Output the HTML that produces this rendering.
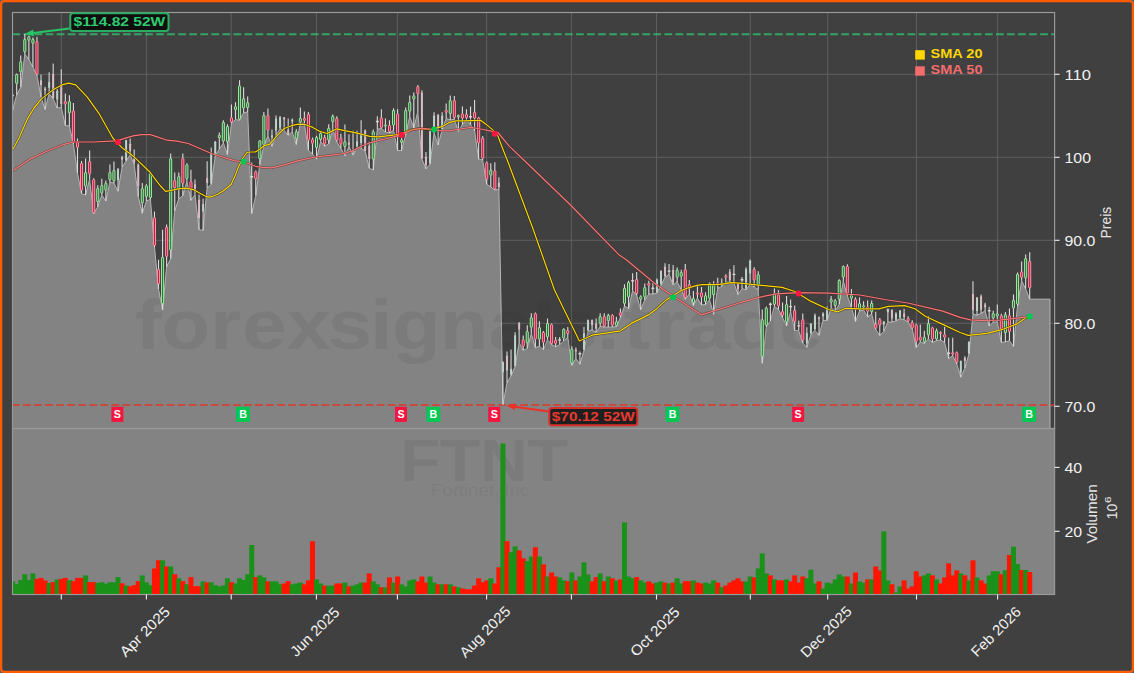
<!DOCTYPE html>
<html><head><meta charset="utf-8"><title>FTNT</title>
<style>
html,body{margin:0;padding:0;background:#404040;}
body{width:1134px;height:673px;overflow:hidden;font-family:"Liberation Sans",sans-serif;}
svg{display:block;position:absolute;left:0;top:0;}
text{font-family:"Liberation Sans",sans-serif;}
</style></head><body>
<svg width="1134" height="673" viewBox="0 0 1134 673">
<defs>
<clipPath id="cp"><rect x="12.5" y="12.5" width="1042.1" height="416.0"/></clipPath>
<clipPath id="cv"><rect x="12.5" y="428.5" width="1042.1" height="166.0"/></clipPath>
</defs>
<rect x="0" y="0" width="1134" height="673" fill="#55626a"/>
<rect x="1.1" y="1.1" width="1131.8" height="670.8" rx="3.2" ry="3.2" fill="#404040" stroke="#ff5c00" stroke-width="2.3"/>

<rect x="12.5" y="428.5" width="1042.1" height="166.0" fill="#838383"/>
<g stroke="#5e5e5e" stroke-width="1" clip-path="url(#cp)">
<line x1="61.3" y1="12.5" x2="61.3" y2="428.5"/>
<line x1="146.4" y1="12.5" x2="146.4" y2="428.5"/>
<line x1="231.2" y1="12.5" x2="231.2" y2="428.5"/>
<line x1="316.4" y1="12.5" x2="316.4" y2="428.5"/>
<line x1="397.4" y1="12.5" x2="397.4" y2="428.5"/>
<line x1="486.6" y1="12.5" x2="486.6" y2="428.5"/>
<line x1="571.4" y1="12.5" x2="571.4" y2="428.5"/>
<line x1="656.5" y1="12.5" x2="656.5" y2="428.5"/>
<line x1="750.3" y1="12.5" x2="750.3" y2="428.5"/>
<line x1="827.7" y1="12.5" x2="827.7" y2="428.5"/>
<line x1="916.5" y1="12.5" x2="916.5" y2="428.5"/>
<line x1="997.6" y1="12.5" x2="997.6" y2="428.5"/>
<line x1="12.5" y1="74.3" x2="1054.6" y2="74.3"/>
<line x1="12.5" y1="157.3" x2="1054.6" y2="157.3"/>
<line x1="12.5" y1="240.3" x2="1054.6" y2="240.3"/>
<line x1="12.5" y1="323.3" x2="1054.6" y2="323.3"/>
<line x1="12.5" y1="406.3" x2="1054.6" y2="406.3"/>
</g>
<g clip-path="url(#cp)">
<polygon points="10.5,110.0 12.7,110.0 16.7,94.8 20.8,87.3 24.8,54.0 28.9,59.4 32.9,67.0 37.0,75.5 41.0,97.0 45.1,109.4 49.1,93.6 53.2,98.8 57.2,108.0 61.3,107.5 65.3,125.5 69.4,126.0 73.4,144.0 77.5,173.0 81.5,193.6 85.6,195.0 89.6,179.5 93.7,213.7 97.7,206.8 101.8,195.0 105.8,201.0 109.9,182.2 113.9,183.0 118.0,191.2 122.1,167.0 126.1,161.0 130.2,154.7 134.2,164.5 138.3,196.8 142.3,213.2 146.4,201.0 150.4,199.2 154.5,247.0 158.5,289.0 162.6,310.0 166.6,266.8 170.7,258.7 174.7,210.8 178.8,198.7 182.8,195.8 186.9,181.3 190.9,200.4 195.0,194.6 199.0,229.7 203.1,230.3 207.1,188.1 211.2,184.6 215.2,156.2 219.3,149.0 223.4,142.8 227.4,154.5 231.5,123.1 235.5,119.6 239.6,120.2 243.6,112.7 247.7,112.0 251.7,213.6 255.8,195.6 259.8,164.3 263.9,145.7 267.9,135.8 272.0,146.3 276.0,135.3 280.1,128.9 284.1,130.3 288.2,135.3 292.2,131.8 296.3,144.5 300.3,123.1 304.4,123.5 308.4,150.3 312.5,154.0 316.5,159.1 320.6,141.6 324.7,146.3 328.7,143.8 332.8,129.0 336.8,141.8 340.9,148.2 344.9,155.7 349.0,146.4 353.0,155.1 357.1,148.0 361.1,148.2 365.2,151.0 369.2,168.2 373.3,170.0 377.3,129.2 381.4,128.5 385.4,131.9 389.5,133.1 393.5,130.2 397.6,150.5 401.6,150.5 405.7,134.8 409.7,116.3 413.8,127.9 417.8,111.7 421.9,159.0 426.0,168.8 430.0,164.2 434.1,133.0 438.1,144.9 442.2,129.6 446.2,118.6 450.3,119.8 454.3,119.2 458.4,131.4 462.4,124.4 466.5,119.5 470.5,124.4 474.6,130.8 478.6,159.2 482.7,160.0 486.7,184.2 490.8,187.0 494.8,190.0 498.9,189.4 502.9,404.7 507.0,382.7 511.0,375.8 515.1,366.5 519.1,342.7 523.2,350.3 527.3,348.5 531.3,333.5 535.4,347.4 539.4,346.5 543.5,349.4 547.5,339.8 551.6,344.5 555.6,346.8 559.7,344.5 563.7,341.0 567.8,337.3 571.8,365.3 575.9,358.4 579.9,364.2 584.0,350.3 588.0,331.1 592.1,330.0 596.1,332.3 600.2,326.5 604.2,327.1 608.3,327.1 612.3,327.1 616.4,326.5 620.4,317.5 624.5,306.0 628.6,308.5 632.6,290.6 636.7,295.2 640.7,309.7 644.8,300.0 648.8,294.0 652.9,294.0 656.9,293.0 661.0,285.3 665.0,277.2 669.1,274.3 673.1,284.8 677.2,281.9 681.2,289.4 685.3,299.2 689.3,294.0 693.4,305.6 697.4,298.1 701.5,305.0 705.5,304.5 709.6,299.8 713.6,314.3 717.7,288.5 721.7,286.5 725.8,282.4 729.9,281.9 733.9,283.0 738.0,294.5 742.0,288.6 746.1,289.8 750.1,284.5 754.2,286.9 758.2,289.8 762.3,363.2 766.3,326.8 770.4,321.0 774.4,306.2 778.5,309.4 782.5,317.6 786.6,326.0 790.6,311.5 794.7,330.5 798.7,330.7 802.8,342.9 806.8,347.5 810.9,334.8 814.9,330.2 819.0,335.3 823.0,320.4 827.1,320.4 831.2,307.7 835.2,311.2 839.3,304.2 843.3,281.0 847.4,296.1 851.4,307.1 855.5,321.5 859.5,311.0 863.6,310.0 867.6,316.9 871.7,314.0 875.7,329.6 879.8,335.4 883.8,331.3 887.9,322.1 891.9,322.1 896.0,320.9 900.0,318.6 904.1,319.8 908.1,322.1 912.2,329.0 916.2,347.6 920.3,341.8 924.3,343.5 928.4,338.9 932.5,342.4 936.5,340.6 940.6,340.0 944.6,342.4 948.7,358.6 952.7,355.7 956.8,363.9 960.8,377.2 964.9,367.9 968.9,354.3 973.0,314.2 977.0,315.2 981.1,313.3 985.1,310.9 989.2,326.0 993.2,322.3 997.3,321.7 1001.3,342.4 1005.4,341.9 1009.4,340.7 1013.5,346.5 1017.5,306.0 1021.6,280.7 1025.6,288.8 1029.7,299.2 1030.2,299.2 1050.0,299.2 1050.0,430.5 10.5,430.5" fill="#838383"/>
<polyline points="10.5,110.0 12.7,110.0 16.7,94.8 20.8,87.3 24.8,54.0 28.9,59.4 32.9,67.0 37.0,75.5 41.0,97.0 45.1,109.4 49.1,93.6 53.2,98.8 57.2,108.0 61.3,107.5 65.3,125.5 69.4,126.0 73.4,144.0 77.5,173.0 81.5,193.6 85.6,195.0 89.6,179.5 93.7,213.7 97.7,206.8 101.8,195.0 105.8,201.0 109.9,182.2 113.9,183.0 118.0,191.2 122.1,167.0 126.1,161.0 130.2,154.7 134.2,164.5 138.3,196.8 142.3,213.2 146.4,201.0 150.4,199.2 154.5,247.0 158.5,289.0 162.6,310.0 166.6,266.8 170.7,258.7 174.7,210.8 178.8,198.7 182.8,195.8 186.9,181.3 190.9,200.4 195.0,194.6 199.0,229.7 203.1,230.3 207.1,188.1 211.2,184.6 215.2,156.2 219.3,149.0 223.4,142.8 227.4,154.5 231.5,123.1 235.5,119.6 239.6,120.2 243.6,112.7 247.7,112.0 251.7,213.6 255.8,195.6 259.8,164.3 263.9,145.7 267.9,135.8 272.0,146.3 276.0,135.3 280.1,128.9 284.1,130.3 288.2,135.3 292.2,131.8 296.3,144.5 300.3,123.1 304.4,123.5 308.4,150.3 312.5,154.0 316.5,159.1 320.6,141.6 324.7,146.3 328.7,143.8 332.8,129.0 336.8,141.8 340.9,148.2 344.9,155.7 349.0,146.4 353.0,155.1 357.1,148.0 361.1,148.2 365.2,151.0 369.2,168.2 373.3,170.0 377.3,129.2 381.4,128.5 385.4,131.9 389.5,133.1 393.5,130.2 397.6,150.5 401.6,150.5 405.7,134.8 409.7,116.3 413.8,127.9 417.8,111.7 421.9,159.0 426.0,168.8 430.0,164.2 434.1,133.0 438.1,144.9 442.2,129.6 446.2,118.6 450.3,119.8 454.3,119.2 458.4,131.4 462.4,124.4 466.5,119.5 470.5,124.4 474.6,130.8 478.6,159.2 482.7,160.0 486.7,184.2 490.8,187.0 494.8,190.0 498.9,189.4 502.9,404.7 507.0,382.7 511.0,375.8 515.1,366.5 519.1,342.7 523.2,350.3 527.3,348.5 531.3,333.5 535.4,347.4 539.4,346.5 543.5,349.4 547.5,339.8 551.6,344.5 555.6,346.8 559.7,344.5 563.7,341.0 567.8,337.3 571.8,365.3 575.9,358.4 579.9,364.2 584.0,350.3 588.0,331.1 592.1,330.0 596.1,332.3 600.2,326.5 604.2,327.1 608.3,327.1 612.3,327.1 616.4,326.5 620.4,317.5 624.5,306.0 628.6,308.5 632.6,290.6 636.7,295.2 640.7,309.7 644.8,300.0 648.8,294.0 652.9,294.0 656.9,293.0 661.0,285.3 665.0,277.2 669.1,274.3 673.1,284.8 677.2,281.9 681.2,289.4 685.3,299.2 689.3,294.0 693.4,305.6 697.4,298.1 701.5,305.0 705.5,304.5 709.6,299.8 713.6,314.3 717.7,288.5 721.7,286.5 725.8,282.4 729.9,281.9 733.9,283.0 738.0,294.5 742.0,288.6 746.1,289.8 750.1,284.5 754.2,286.9 758.2,289.8 762.3,363.2 766.3,326.8 770.4,321.0 774.4,306.2 778.5,309.4 782.5,317.6 786.6,326.0 790.6,311.5 794.7,330.5 798.7,330.7 802.8,342.9 806.8,347.5 810.9,334.8 814.9,330.2 819.0,335.3 823.0,320.4 827.1,320.4 831.2,307.7 835.2,311.2 839.3,304.2 843.3,281.0 847.4,296.1 851.4,307.1 855.5,321.5 859.5,311.0 863.6,310.0 867.6,316.9 871.7,314.0 875.7,329.6 879.8,335.4 883.8,331.3 887.9,322.1 891.9,322.1 896.0,320.9 900.0,318.6 904.1,319.8 908.1,322.1 912.2,329.0 916.2,347.6 920.3,341.8 924.3,343.5 928.4,338.9 932.5,342.4 936.5,340.6 940.6,340.0 944.6,342.4 948.7,358.6 952.7,355.7 956.8,363.9 960.8,377.2 964.9,367.9 968.9,354.3 973.0,314.2 977.0,315.2 981.1,313.3 985.1,310.9 989.2,326.0 993.2,322.3 997.3,321.7 1001.3,342.4 1005.4,341.9 1009.4,340.7 1013.5,346.5 1017.5,306.0 1021.6,280.7 1025.6,288.8 1029.7,299.2 1030.2,299.2 1050.0,299.2 1050.0,430.5" fill="none" stroke="#b4b4b4" stroke-width="1" stroke-linejoin="round"/>
</g>
<text transform="scale(1.12,1)" x="120.8 144.3 187.4 216.4 255.8 292.7 330.6 350.3 392.8 436.1 476.3 494.4 533.3 557.0 583.9 612.8 652.3 695.8" y="349" font-size="71" font-weight="bold" fill="#303030" fill-opacity="0.088">forexsignals.trade</text>
<text transform="scale(1.1,1)" x="363.7 399.7 436.3 479.6" y="481.5" font-size="60" font-weight="bold" fill="#303030" fill-opacity="0.085">FTNT</text>
<text x="480" y="496" text-anchor="middle" font-size="16.5" fill="#303030" fill-opacity="0.085" textLength="98" lengthAdjust="spacingAndGlyphs">Fortinet, Inc</text>
<line x1="12.5" y1="34.2" x2="1054.6" y2="34.2" stroke="#2ecc71" stroke-opacity="0.72" stroke-width="2" stroke-dasharray="7.7 3.35"/>
<line x1="12.0" y1="405" x2="1054.6" y2="405" stroke="#e03424" stroke-opacity="0.74" stroke-width="1.9" stroke-dasharray="7.7 3.35"/>
<g clip-path="url(#cp)">
<line x1="12.65" y1="93.0" x2="12.65" y2="110.0" stroke="#dcdcdc" stroke-width="1.1"/>
<line x1="16.70" y1="73.5" x2="16.70" y2="94.8" stroke="#dcdcdc" stroke-width="1.1"/>
<line x1="20.75" y1="55.4" x2="20.75" y2="87.3" stroke="#dcdcdc" stroke-width="1.1"/>
<line x1="24.81" y1="34.0" x2="24.81" y2="54.0" stroke="#dcdcdc" stroke-width="1.1"/>
<line x1="28.86" y1="35.8" x2="28.86" y2="59.4" stroke="#dcdcdc" stroke-width="1.1"/>
<line x1="32.91" y1="37.6" x2="32.91" y2="67.0" stroke="#dcdcdc" stroke-width="1.1"/>
<line x1="36.96" y1="36.7" x2="36.96" y2="75.5" stroke="#dcdcdc" stroke-width="1.1"/>
<line x1="41.01" y1="74.5" x2="41.01" y2="97.0" stroke="#d6d6d6" stroke-width="1.1"/>
<line x1="45.07" y1="86.7" x2="45.07" y2="109.4" stroke="#d6d6d6" stroke-width="1.1"/>
<line x1="49.12" y1="72.2" x2="49.12" y2="93.6" stroke="#d6d6d6" stroke-width="1.1"/>
<line x1="53.17" y1="63.5" x2="53.17" y2="98.8" stroke="#d6d6d6" stroke-width="1.1"/>
<line x1="57.22" y1="89.0" x2="57.22" y2="108.0" stroke="#d6d6d6" stroke-width="1.1"/>
<line x1="61.27" y1="69.3" x2="61.27" y2="107.5" stroke="#d6d6d6" stroke-width="1.1"/>
<line x1="65.33" y1="93.6" x2="65.33" y2="125.5" stroke="#dcdcdc" stroke-width="1.1"/>
<line x1="69.38" y1="95.3" x2="69.38" y2="126.0" stroke="#dcdcdc" stroke-width="1.1"/>
<line x1="73.43" y1="102.9" x2="73.43" y2="144.0" stroke="#dcdcdc" stroke-width="1.1"/>
<line x1="77.48" y1="138.5" x2="77.48" y2="173.0" stroke="#dcdcdc" stroke-width="1.1"/>
<line x1="81.53" y1="161.0" x2="81.53" y2="193.6" stroke="#dcdcdc" stroke-width="1.1"/>
<line x1="85.59" y1="158.4" x2="85.59" y2="195.0" stroke="#dcdcdc" stroke-width="1.1"/>
<line x1="89.64" y1="150.5" x2="89.64" y2="179.5" stroke="#dcdcdc" stroke-width="1.1"/>
<line x1="93.69" y1="178.2" x2="93.69" y2="213.7" stroke="#dcdcdc" stroke-width="1.1"/>
<line x1="97.74" y1="185.3" x2="97.74" y2="206.8" stroke="#dcdcdc" stroke-width="1.1"/>
<line x1="101.79" y1="178.8" x2="101.79" y2="195.0" stroke="#dcdcdc" stroke-width="1.1"/>
<line x1="105.85" y1="180.5" x2="105.85" y2="201.0" stroke="#dcdcdc" stroke-width="1.1"/>
<line x1="109.90" y1="164.5" x2="109.90" y2="182.2" stroke="#dcdcdc" stroke-width="1.1"/>
<line x1="113.95" y1="161.6" x2="113.95" y2="183.0" stroke="#dcdcdc" stroke-width="1.1"/>
<line x1="118.00" y1="168.0" x2="118.00" y2="191.2" stroke="#d6d6d6" stroke-width="1.1"/>
<line x1="122.05" y1="155.8" x2="122.05" y2="167.0" stroke="#d6d6d6" stroke-width="1.1"/>
<line x1="126.11" y1="139.7" x2="126.11" y2="161.0" stroke="#d6d6d6" stroke-width="1.1"/>
<line x1="130.16" y1="138.5" x2="130.16" y2="154.7" stroke="#d6d6d6" stroke-width="1.1"/>
<line x1="134.21" y1="149.5" x2="134.21" y2="164.5" stroke="#d6d6d6" stroke-width="1.1"/>
<line x1="138.26" y1="163.5" x2="138.26" y2="196.8" stroke="#d6d6d6" stroke-width="1.1"/>
<line x1="142.31" y1="183.0" x2="142.31" y2="213.2" stroke="#dcdcdc" stroke-width="1.1"/>
<line x1="146.37" y1="184.2" x2="146.37" y2="201.0" stroke="#dcdcdc" stroke-width="1.1"/>
<line x1="150.42" y1="172.0" x2="150.42" y2="199.2" stroke="#dcdcdc" stroke-width="1.1"/>
<line x1="154.47" y1="211.5" x2="154.47" y2="247.0" stroke="#dcdcdc" stroke-width="1.1"/>
<line x1="158.52" y1="259.8" x2="158.52" y2="289.0" stroke="#dcdcdc" stroke-width="1.1"/>
<line x1="162.57" y1="229.7" x2="162.57" y2="310.0" stroke="#dcdcdc" stroke-width="1.1"/>
<line x1="166.63" y1="224.5" x2="166.63" y2="266.8" stroke="#dcdcdc" stroke-width="1.1"/>
<line x1="170.68" y1="153.5" x2="170.68" y2="258.7" stroke="#dcdcdc" stroke-width="1.1"/>
<line x1="174.73" y1="172.6" x2="174.73" y2="210.8" stroke="#dcdcdc" stroke-width="1.1"/>
<line x1="178.78" y1="172.6" x2="178.78" y2="198.7" stroke="#dcdcdc" stroke-width="1.1"/>
<line x1="182.83" y1="153.5" x2="182.83" y2="195.8" stroke="#dcdcdc" stroke-width="1.1"/>
<line x1="186.89" y1="163.3" x2="186.89" y2="181.3" stroke="#dcdcdc" stroke-width="1.1"/>
<line x1="190.94" y1="169.7" x2="190.94" y2="200.4" stroke="#dcdcdc" stroke-width="1.1"/>
<line x1="194.99" y1="179.5" x2="194.99" y2="194.6" stroke="#d6d6d6" stroke-width="1.1"/>
<line x1="199.04" y1="194.6" x2="199.04" y2="229.7" stroke="#d6d6d6" stroke-width="1.1"/>
<line x1="203.09" y1="198.7" x2="203.09" y2="230.3" stroke="#d6d6d6" stroke-width="1.1"/>
<line x1="207.15" y1="161.2" x2="207.15" y2="188.1" stroke="#d6d6d6" stroke-width="1.1"/>
<line x1="211.20" y1="147.5" x2="211.20" y2="184.6" stroke="#d6d6d6" stroke-width="1.1"/>
<line x1="215.25" y1="141.0" x2="215.25" y2="156.2" stroke="#d6d6d6" stroke-width="1.1"/>
<line x1="219.30" y1="132.4" x2="219.30" y2="149.0" stroke="#dcdcdc" stroke-width="1.1"/>
<line x1="223.35" y1="120.2" x2="223.35" y2="142.8" stroke="#dcdcdc" stroke-width="1.1"/>
<line x1="227.41" y1="124.2" x2="227.41" y2="154.5" stroke="#dcdcdc" stroke-width="1.1"/>
<line x1="231.46" y1="104.5" x2="231.46" y2="123.1" stroke="#dcdcdc" stroke-width="1.1"/>
<line x1="235.51" y1="102.2" x2="235.51" y2="119.6" stroke="#dcdcdc" stroke-width="1.1"/>
<line x1="239.56" y1="80.2" x2="239.56" y2="120.2" stroke="#dcdcdc" stroke-width="1.1"/>
<line x1="243.61" y1="87.2" x2="243.61" y2="112.7" stroke="#dcdcdc" stroke-width="1.1"/>
<line x1="247.67" y1="96.4" x2="247.67" y2="112.0" stroke="#dcdcdc" stroke-width="1.1"/>
<line x1="251.72" y1="162.6" x2="251.72" y2="213.6" stroke="#dcdcdc" stroke-width="1.1"/>
<line x1="255.77" y1="170.5" x2="255.77" y2="195.6" stroke="#dcdcdc" stroke-width="1.1"/>
<line x1="259.82" y1="139.9" x2="259.82" y2="164.3" stroke="#dcdcdc" stroke-width="1.1"/>
<line x1="263.87" y1="112.0" x2="263.87" y2="145.7" stroke="#dcdcdc" stroke-width="1.1"/>
<line x1="267.93" y1="108.6" x2="267.93" y2="135.8" stroke="#dcdcdc" stroke-width="1.1"/>
<line x1="271.98" y1="129.5" x2="271.98" y2="146.3" stroke="#d6d6d6" stroke-width="1.1"/>
<line x1="276.03" y1="115.6" x2="276.03" y2="135.3" stroke="#d6d6d6" stroke-width="1.1"/>
<line x1="280.08" y1="116.1" x2="280.08" y2="128.9" stroke="#d6d6d6" stroke-width="1.1"/>
<line x1="284.13" y1="117.3" x2="284.13" y2="130.3" stroke="#d6d6d6" stroke-width="1.1"/>
<line x1="288.19" y1="118.5" x2="288.19" y2="135.3" stroke="#d6d6d6" stroke-width="1.1"/>
<line x1="292.24" y1="118.5" x2="292.24" y2="131.8" stroke="#d6d6d6" stroke-width="1.1"/>
<line x1="296.29" y1="128.9" x2="296.29" y2="144.5" stroke="#dcdcdc" stroke-width="1.1"/>
<line x1="300.34" y1="107.4" x2="300.34" y2="123.1" stroke="#dcdcdc" stroke-width="1.1"/>
<line x1="304.39" y1="111.5" x2="304.39" y2="123.5" stroke="#dcdcdc" stroke-width="1.1"/>
<line x1="308.45" y1="112.0" x2="308.45" y2="150.3" stroke="#dcdcdc" stroke-width="1.1"/>
<line x1="312.50" y1="137.6" x2="312.50" y2="154.0" stroke="#dcdcdc" stroke-width="1.1"/>
<line x1="316.55" y1="135.8" x2="316.55" y2="159.1" stroke="#dcdcdc" stroke-width="1.1"/>
<line x1="320.60" y1="131.8" x2="320.60" y2="141.6" stroke="#dcdcdc" stroke-width="1.1"/>
<line x1="324.65" y1="134.7" x2="324.65" y2="146.3" stroke="#dcdcdc" stroke-width="1.1"/>
<line x1="328.71" y1="124.3" x2="328.71" y2="143.8" stroke="#dcdcdc" stroke-width="1.1"/>
<line x1="332.76" y1="114.5" x2="332.76" y2="129.0" stroke="#dcdcdc" stroke-width="1.1"/>
<line x1="336.81" y1="116.3" x2="336.81" y2="141.8" stroke="#dcdcdc" stroke-width="1.1"/>
<line x1="340.86" y1="133.7" x2="340.86" y2="148.2" stroke="#dcdcdc" stroke-width="1.1"/>
<line x1="344.91" y1="124.4" x2="344.91" y2="155.7" stroke="#dcdcdc" stroke-width="1.1"/>
<line x1="348.97" y1="134.2" x2="348.97" y2="146.4" stroke="#d6d6d6" stroke-width="1.1"/>
<line x1="353.02" y1="130.8" x2="353.02" y2="155.1" stroke="#d6d6d6" stroke-width="1.1"/>
<line x1="357.07" y1="130.8" x2="357.07" y2="148.0" stroke="#d6d6d6" stroke-width="1.1"/>
<line x1="361.12" y1="120.3" x2="361.12" y2="148.2" stroke="#d6d6d6" stroke-width="1.1"/>
<line x1="365.17" y1="129.6" x2="365.17" y2="151.0" stroke="#d6d6d6" stroke-width="1.1"/>
<line x1="369.23" y1="141.8" x2="369.23" y2="168.2" stroke="#d6d6d6" stroke-width="1.1"/>
<line x1="373.28" y1="129.6" x2="373.28" y2="170.0" stroke="#dcdcdc" stroke-width="1.1"/>
<line x1="377.33" y1="116.3" x2="377.33" y2="129.2" stroke="#dcdcdc" stroke-width="1.1"/>
<line x1="381.38" y1="109.3" x2="381.38" y2="128.5" stroke="#dcdcdc" stroke-width="1.1"/>
<line x1="385.43" y1="118.6" x2="385.43" y2="131.9" stroke="#dcdcdc" stroke-width="1.1"/>
<line x1="389.49" y1="120.3" x2="389.49" y2="133.1" stroke="#dcdcdc" stroke-width="1.1"/>
<line x1="393.54" y1="108.2" x2="393.54" y2="130.2" stroke="#dcdcdc" stroke-width="1.1"/>
<line x1="397.59" y1="109.3" x2="397.59" y2="150.5" stroke="#dcdcdc" stroke-width="1.1"/>
<line x1="401.64" y1="137.7" x2="401.64" y2="150.5" stroke="#dcdcdc" stroke-width="1.1"/>
<line x1="405.69" y1="107.6" x2="405.69" y2="134.8" stroke="#dcdcdc" stroke-width="1.1"/>
<line x1="409.75" y1="95.4" x2="409.75" y2="116.3" stroke="#dcdcdc" stroke-width="1.1"/>
<line x1="413.80" y1="92.5" x2="413.80" y2="127.9" stroke="#dcdcdc" stroke-width="1.1"/>
<line x1="417.85" y1="85.0" x2="417.85" y2="111.7" stroke="#dcdcdc" stroke-width="1.1"/>
<line x1="421.90" y1="90.2" x2="421.90" y2="159.0" stroke="#d6d6d6" stroke-width="1.1"/>
<line x1="425.95" y1="152.1" x2="425.95" y2="168.8" stroke="#d6d6d6" stroke-width="1.1"/>
<line x1="430.01" y1="130.2" x2="430.01" y2="164.2" stroke="#d6d6d6" stroke-width="1.1"/>
<line x1="434.06" y1="112.2" x2="434.06" y2="133.0" stroke="#d6d6d6" stroke-width="1.1"/>
<line x1="438.11" y1="114.0" x2="438.11" y2="144.9" stroke="#d6d6d6" stroke-width="1.1"/>
<line x1="442.16" y1="112.2" x2="442.16" y2="129.6" stroke="#d6d6d6" stroke-width="1.1"/>
<line x1="446.21" y1="103.5" x2="446.21" y2="118.6" stroke="#dcdcdc" stroke-width="1.1"/>
<line x1="450.27" y1="95.4" x2="450.27" y2="119.8" stroke="#dcdcdc" stroke-width="1.1"/>
<line x1="454.32" y1="96.0" x2="454.32" y2="119.2" stroke="#dcdcdc" stroke-width="1.1"/>
<line x1="458.37" y1="114.5" x2="458.37" y2="131.4" stroke="#dcdcdc" stroke-width="1.1"/>
<line x1="462.42" y1="106.4" x2="462.42" y2="124.4" stroke="#dcdcdc" stroke-width="1.1"/>
<line x1="466.47" y1="109.3" x2="466.47" y2="119.5" stroke="#dcdcdc" stroke-width="1.1"/>
<line x1="470.53" y1="106.4" x2="470.53" y2="124.4" stroke="#dcdcdc" stroke-width="1.1"/>
<line x1="474.58" y1="100.1" x2="474.58" y2="130.8" stroke="#dcdcdc" stroke-width="1.1"/>
<line x1="478.63" y1="116.9" x2="478.63" y2="159.2" stroke="#dcdcdc" stroke-width="1.1"/>
<line x1="482.68" y1="136.0" x2="482.68" y2="160.0" stroke="#dcdcdc" stroke-width="1.1"/>
<line x1="486.73" y1="161.6" x2="486.73" y2="184.2" stroke="#dcdcdc" stroke-width="1.1"/>
<line x1="490.79" y1="163.3" x2="490.79" y2="187.0" stroke="#dcdcdc" stroke-width="1.1"/>
<line x1="494.84" y1="162.2" x2="494.84" y2="190.0" stroke="#dcdcdc" stroke-width="1.1"/>
<line x1="498.89" y1="177.2" x2="498.89" y2="189.4" stroke="#d6d6d6" stroke-width="1.1"/>
<line x1="502.94" y1="361.5" x2="502.94" y2="404.7" stroke="#d6d6d6" stroke-width="1.1"/>
<line x1="506.99" y1="351.4" x2="506.99" y2="382.7" stroke="#d6d6d6" stroke-width="1.1"/>
<line x1="511.05" y1="349.4" x2="511.05" y2="375.8" stroke="#d6d6d6" stroke-width="1.1"/>
<line x1="515.10" y1="332.3" x2="515.10" y2="366.5" stroke="#d6d6d6" stroke-width="1.1"/>
<line x1="519.15" y1="321.9" x2="519.15" y2="342.7" stroke="#d6d6d6" stroke-width="1.1"/>
<line x1="523.20" y1="335.5" x2="523.20" y2="350.3" stroke="#dcdcdc" stroke-width="1.1"/>
<line x1="527.25" y1="325.3" x2="527.25" y2="348.5" stroke="#dcdcdc" stroke-width="1.1"/>
<line x1="531.31" y1="313.2" x2="531.31" y2="333.5" stroke="#dcdcdc" stroke-width="1.1"/>
<line x1="535.36" y1="312.6" x2="535.36" y2="347.4" stroke="#dcdcdc" stroke-width="1.1"/>
<line x1="539.41" y1="321.3" x2="539.41" y2="346.5" stroke="#dcdcdc" stroke-width="1.1"/>
<line x1="543.46" y1="331.1" x2="543.46" y2="349.4" stroke="#dcdcdc" stroke-width="1.1"/>
<line x1="547.51" y1="318.4" x2="547.51" y2="339.8" stroke="#dcdcdc" stroke-width="1.1"/>
<line x1="551.57" y1="323.6" x2="551.57" y2="344.5" stroke="#dcdcdc" stroke-width="1.1"/>
<line x1="555.62" y1="336.9" x2="555.62" y2="346.8" stroke="#dcdcdc" stroke-width="1.1"/>
<line x1="559.67" y1="336.9" x2="559.67" y2="344.5" stroke="#dcdcdc" stroke-width="1.1"/>
<line x1="563.72" y1="328.2" x2="563.72" y2="341.0" stroke="#dcdcdc" stroke-width="1.1"/>
<line x1="567.77" y1="327.1" x2="567.77" y2="337.3" stroke="#dcdcdc" stroke-width="1.1"/>
<line x1="571.83" y1="346.2" x2="571.83" y2="365.3" stroke="#dcdcdc" stroke-width="1.1"/>
<line x1="575.88" y1="347.4" x2="575.88" y2="358.4" stroke="#d6d6d6" stroke-width="1.1"/>
<line x1="579.93" y1="351.4" x2="579.93" y2="364.2" stroke="#d6d6d6" stroke-width="1.1"/>
<line x1="583.98" y1="327.1" x2="583.98" y2="350.3" stroke="#d6d6d6" stroke-width="1.1"/>
<line x1="588.03" y1="319.5" x2="588.03" y2="331.1" stroke="#d6d6d6" stroke-width="1.1"/>
<line x1="592.09" y1="319.5" x2="592.09" y2="330.0" stroke="#d6d6d6" stroke-width="1.1"/>
<line x1="596.14" y1="318.4" x2="596.14" y2="332.3" stroke="#d6d6d6" stroke-width="1.1"/>
<line x1="600.19" y1="313.2" x2="600.19" y2="326.5" stroke="#dcdcdc" stroke-width="1.1"/>
<line x1="604.24" y1="313.2" x2="604.24" y2="327.1" stroke="#dcdcdc" stroke-width="1.1"/>
<line x1="608.29" y1="313.8" x2="608.29" y2="327.1" stroke="#dcdcdc" stroke-width="1.1"/>
<line x1="612.35" y1="314.3" x2="612.35" y2="327.1" stroke="#dcdcdc" stroke-width="1.1"/>
<line x1="616.40" y1="316.7" x2="616.40" y2="326.5" stroke="#dcdcdc" stroke-width="1.1"/>
<line x1="620.45" y1="308.5" x2="620.45" y2="317.5" stroke="#dcdcdc" stroke-width="1.1"/>
<line x1="624.50" y1="284.2" x2="624.50" y2="306.0" stroke="#dcdcdc" stroke-width="1.1"/>
<line x1="628.55" y1="280.7" x2="628.55" y2="308.5" stroke="#dcdcdc" stroke-width="1.1"/>
<line x1="632.61" y1="273.2" x2="632.61" y2="290.6" stroke="#dcdcdc" stroke-width="1.1"/>
<line x1="636.66" y1="272.0" x2="636.66" y2="295.2" stroke="#dcdcdc" stroke-width="1.1"/>
<line x1="640.71" y1="295.2" x2="640.71" y2="309.7" stroke="#dcdcdc" stroke-width="1.1"/>
<line x1="644.76" y1="283.6" x2="644.76" y2="300.0" stroke="#dcdcdc" stroke-width="1.1"/>
<line x1="648.81" y1="280.7" x2="648.81" y2="294.0" stroke="#dcdcdc" stroke-width="1.1"/>
<line x1="652.87" y1="283.0" x2="652.87" y2="294.0" stroke="#d6d6d6" stroke-width="1.1"/>
<line x1="656.92" y1="278.4" x2="656.92" y2="293.0" stroke="#d6d6d6" stroke-width="1.1"/>
<line x1="660.97" y1="270.3" x2="660.97" y2="285.3" stroke="#d6d6d6" stroke-width="1.1"/>
<line x1="665.02" y1="263.3" x2="665.02" y2="277.2" stroke="#d6d6d6" stroke-width="1.1"/>
<line x1="669.07" y1="263.9" x2="669.07" y2="274.3" stroke="#d6d6d6" stroke-width="1.1"/>
<line x1="673.13" y1="265.1" x2="673.13" y2="284.8" stroke="#d6d6d6" stroke-width="1.1"/>
<line x1="677.18" y1="267.4" x2="677.18" y2="281.9" stroke="#dcdcdc" stroke-width="1.1"/>
<line x1="681.23" y1="269.7" x2="681.23" y2="289.4" stroke="#dcdcdc" stroke-width="1.1"/>
<line x1="685.28" y1="263.9" x2="685.28" y2="299.2" stroke="#dcdcdc" stroke-width="1.1"/>
<line x1="689.33" y1="280.1" x2="689.33" y2="294.0" stroke="#dcdcdc" stroke-width="1.1"/>
<line x1="693.39" y1="291.1" x2="693.39" y2="305.6" stroke="#dcdcdc" stroke-width="1.1"/>
<line x1="697.44" y1="284.8" x2="697.44" y2="298.1" stroke="#dcdcdc" stroke-width="1.1"/>
<line x1="701.49" y1="287.1" x2="701.49" y2="305.0" stroke="#dcdcdc" stroke-width="1.1"/>
<line x1="705.54" y1="292.3" x2="705.54" y2="304.5" stroke="#dcdcdc" stroke-width="1.1"/>
<line x1="709.59" y1="282.4" x2="709.59" y2="299.8" stroke="#dcdcdc" stroke-width="1.1"/>
<line x1="713.65" y1="281.3" x2="713.65" y2="314.3" stroke="#dcdcdc" stroke-width="1.1"/>
<line x1="717.70" y1="277.8" x2="717.70" y2="288.5" stroke="#dcdcdc" stroke-width="1.1"/>
<line x1="721.75" y1="278.4" x2="721.75" y2="286.5" stroke="#dcdcdc" stroke-width="1.1"/>
<line x1="725.80" y1="274.3" x2="725.80" y2="282.4" stroke="#dcdcdc" stroke-width="1.1"/>
<line x1="729.85" y1="269.1" x2="729.85" y2="281.9" stroke="#d6d6d6" stroke-width="1.1"/>
<line x1="733.91" y1="265.2" x2="733.91" y2="283.0" stroke="#d6d6d6" stroke-width="1.1"/>
<line x1="737.96" y1="283.0" x2="737.96" y2="294.5" stroke="#d6d6d6" stroke-width="1.1"/>
<line x1="742.01" y1="277.0" x2="742.01" y2="288.6" stroke="#d6d6d6" stroke-width="1.1"/>
<line x1="746.06" y1="267.2" x2="746.06" y2="289.8" stroke="#d6d6d6" stroke-width="1.1"/>
<line x1="750.11" y1="259.6" x2="750.11" y2="284.5" stroke="#d6d6d6" stroke-width="1.1"/>
<line x1="754.17" y1="267.2" x2="754.17" y2="286.9" stroke="#dcdcdc" stroke-width="1.1"/>
<line x1="758.22" y1="271.2" x2="758.22" y2="289.8" stroke="#dcdcdc" stroke-width="1.1"/>
<line x1="762.27" y1="309.6" x2="762.27" y2="363.2" stroke="#dcdcdc" stroke-width="1.1"/>
<line x1="766.32" y1="306.5" x2="766.32" y2="326.8" stroke="#dcdcdc" stroke-width="1.1"/>
<line x1="770.37" y1="302.4" x2="770.37" y2="321.0" stroke="#dcdcdc" stroke-width="1.1"/>
<line x1="774.43" y1="288.6" x2="774.43" y2="306.2" stroke="#dcdcdc" stroke-width="1.1"/>
<line x1="778.48" y1="290.3" x2="778.48" y2="309.4" stroke="#dcdcdc" stroke-width="1.1"/>
<line x1="782.53" y1="302.5" x2="782.53" y2="317.6" stroke="#dcdcdc" stroke-width="1.1"/>
<line x1="786.58" y1="296.1" x2="786.58" y2="326.0" stroke="#dcdcdc" stroke-width="1.1"/>
<line x1="790.63" y1="299.6" x2="790.63" y2="311.5" stroke="#dcdcdc" stroke-width="1.1"/>
<line x1="794.69" y1="305.4" x2="794.69" y2="330.5" stroke="#dcdcdc" stroke-width="1.1"/>
<line x1="798.74" y1="320.4" x2="798.74" y2="330.7" stroke="#dcdcdc" stroke-width="1.1"/>
<line x1="802.79" y1="313.4" x2="802.79" y2="342.9" stroke="#dcdcdc" stroke-width="1.1"/>
<line x1="806.84" y1="327.2" x2="806.84" y2="347.5" stroke="#d6d6d6" stroke-width="1.1"/>
<line x1="810.89" y1="323.2" x2="810.89" y2="334.8" stroke="#d6d6d6" stroke-width="1.1"/>
<line x1="814.95" y1="313.4" x2="814.95" y2="330.2" stroke="#d6d6d6" stroke-width="1.1"/>
<line x1="819.00" y1="316.5" x2="819.00" y2="335.3" stroke="#d6d6d6" stroke-width="1.1"/>
<line x1="823.05" y1="312.3" x2="823.05" y2="320.4" stroke="#d6d6d6" stroke-width="1.1"/>
<line x1="827.10" y1="306.5" x2="827.10" y2="320.4" stroke="#d6d6d6" stroke-width="1.1"/>
<line x1="831.15" y1="296.1" x2="831.15" y2="307.7" stroke="#dcdcdc" stroke-width="1.1"/>
<line x1="835.21" y1="299.0" x2="835.21" y2="311.2" stroke="#dcdcdc" stroke-width="1.1"/>
<line x1="839.26" y1="279.3" x2="839.26" y2="304.2" stroke="#dcdcdc" stroke-width="1.1"/>
<line x1="843.31" y1="265.4" x2="843.31" y2="281.0" stroke="#dcdcdc" stroke-width="1.1"/>
<line x1="847.36" y1="264.3" x2="847.36" y2="296.1" stroke="#dcdcdc" stroke-width="1.1"/>
<line x1="851.41" y1="289.1" x2="851.41" y2="307.1" stroke="#dcdcdc" stroke-width="1.1"/>
<line x1="855.47" y1="297.3" x2="855.47" y2="321.5" stroke="#dcdcdc" stroke-width="1.1"/>
<line x1="859.52" y1="297.5" x2="859.52" y2="311.0" stroke="#dcdcdc" stroke-width="1.1"/>
<line x1="863.57" y1="301.2" x2="863.57" y2="310.0" stroke="#dcdcdc" stroke-width="1.1"/>
<line x1="867.62" y1="300.6" x2="867.62" y2="316.9" stroke="#dcdcdc" stroke-width="1.1"/>
<line x1="871.67" y1="300.6" x2="871.67" y2="314.0" stroke="#dcdcdc" stroke-width="1.1"/>
<line x1="875.73" y1="311.7" x2="875.73" y2="329.6" stroke="#dcdcdc" stroke-width="1.1"/>
<line x1="879.78" y1="318.0" x2="879.78" y2="335.4" stroke="#dcdcdc" stroke-width="1.1"/>
<line x1="883.83" y1="320.9" x2="883.83" y2="331.3" stroke="#d6d6d6" stroke-width="1.1"/>
<line x1="887.88" y1="308.8" x2="887.88" y2="322.1" stroke="#d6d6d6" stroke-width="1.1"/>
<line x1="891.93" y1="309.3" x2="891.93" y2="322.1" stroke="#d6d6d6" stroke-width="1.1"/>
<line x1="895.99" y1="312.2" x2="895.99" y2="320.9" stroke="#d6d6d6" stroke-width="1.1"/>
<line x1="900.04" y1="309.9" x2="900.04" y2="318.6" stroke="#d6d6d6" stroke-width="1.1"/>
<line x1="904.09" y1="308.8" x2="904.09" y2="319.8" stroke="#d6d6d6" stroke-width="1.1"/>
<line x1="908.14" y1="316.3" x2="908.14" y2="322.1" stroke="#dcdcdc" stroke-width="1.1"/>
<line x1="912.19" y1="320.3" x2="912.19" y2="329.0" stroke="#dcdcdc" stroke-width="1.1"/>
<line x1="916.25" y1="323.8" x2="916.25" y2="347.6" stroke="#dcdcdc" stroke-width="1.1"/>
<line x1="920.30" y1="324.4" x2="920.30" y2="341.8" stroke="#dcdcdc" stroke-width="1.1"/>
<line x1="924.35" y1="330.8" x2="924.35" y2="343.5" stroke="#dcdcdc" stroke-width="1.1"/>
<line x1="928.40" y1="316.3" x2="928.40" y2="338.9" stroke="#dcdcdc" stroke-width="1.1"/>
<line x1="932.45" y1="326.7" x2="932.45" y2="342.4" stroke="#dcdcdc" stroke-width="1.1"/>
<line x1="936.51" y1="328.5" x2="936.51" y2="340.6" stroke="#dcdcdc" stroke-width="1.1"/>
<line x1="940.56" y1="331.3" x2="940.56" y2="340.0" stroke="#dcdcdc" stroke-width="1.1"/>
<line x1="944.61" y1="326.7" x2="944.61" y2="342.4" stroke="#dcdcdc" stroke-width="1.1"/>
<line x1="948.66" y1="337.7" x2="948.66" y2="358.6" stroke="#dcdcdc" stroke-width="1.1"/>
<line x1="952.71" y1="337.7" x2="952.71" y2="355.7" stroke="#dcdcdc" stroke-width="1.1"/>
<line x1="956.77" y1="351.6" x2="956.77" y2="363.9" stroke="#dcdcdc" stroke-width="1.1"/>
<line x1="960.82" y1="360.4" x2="960.82" y2="377.2" stroke="#d6d6d6" stroke-width="1.1"/>
<line x1="964.87" y1="356.3" x2="964.87" y2="367.9" stroke="#d6d6d6" stroke-width="1.1"/>
<line x1="968.92" y1="341.2" x2="968.92" y2="354.3" stroke="#d6d6d6" stroke-width="1.1"/>
<line x1="972.97" y1="281.3" x2="972.97" y2="314.2" stroke="#d6d6d6" stroke-width="1.1"/>
<line x1="977.03" y1="296.9" x2="977.03" y2="315.2" stroke="#d6d6d6" stroke-width="1.1"/>
<line x1="981.08" y1="294.6" x2="981.08" y2="313.3" stroke="#d6d6d6" stroke-width="1.1"/>
<line x1="985.13" y1="302.7" x2="985.13" y2="310.9" stroke="#d6d6d6" stroke-width="1.1"/>
<line x1="989.18" y1="306.8" x2="989.18" y2="326.0" stroke="#d6d6d6" stroke-width="1.1"/>
<line x1="993.23" y1="310.8" x2="993.23" y2="322.3" stroke="#dcdcdc" stroke-width="1.1"/>
<line x1="997.29" y1="304.5" x2="997.29" y2="321.7" stroke="#dcdcdc" stroke-width="1.1"/>
<line x1="1001.34" y1="313.7" x2="1001.34" y2="342.4" stroke="#dcdcdc" stroke-width="1.1"/>
<line x1="1005.39" y1="312.0" x2="1005.39" y2="341.9" stroke="#dcdcdc" stroke-width="1.1"/>
<line x1="1009.44" y1="308.5" x2="1009.44" y2="340.7" stroke="#dcdcdc" stroke-width="1.1"/>
<line x1="1013.49" y1="294.6" x2="1013.49" y2="346.5" stroke="#dcdcdc" stroke-width="1.1"/>
<line x1="1017.55" y1="272.6" x2="1017.55" y2="306.0" stroke="#dcdcdc" stroke-width="1.1"/>
<line x1="1021.60" y1="261.6" x2="1021.60" y2="280.7" stroke="#dcdcdc" stroke-width="1.1"/>
<line x1="1025.65" y1="254.6" x2="1025.65" y2="288.8" stroke="#dcdcdc" stroke-width="1.1"/>
<line x1="1029.70" y1="252.3" x2="1029.70" y2="299.2" stroke="#dcdcdc" stroke-width="1.1"/>
<rect x="11.15" y="94.9" width="3" height="1.4" rx="0.5" fill="#d3dcd5"/>
<rect x="15.67" y="74.5" width="2.06" height="8.9" rx="0.35" fill="#1f7a30" stroke="#a8e4a8" stroke-width="1"/>
<rect x="19.72" y="61.7" width="2.06" height="10.0" rx="0.35" fill="#1f7a30" stroke="#a8e4a8" stroke-width="1"/>
<rect x="23.78" y="39.4" width="2.06" height="12.4" rx="0.35" fill="#1f7a30" stroke="#a8e4a8" stroke-width="1"/>
<rect x="27.83" y="36.7" width="2.06" height="3.5" rx="0.35" fill="#1f7a30" stroke="#a8e4a8" stroke-width="1"/>
<rect x="31.88" y="39.4" width="2.06" height="3.9" rx="0.35" fill="#1f7a30" stroke="#a8e4a8" stroke-width="1"/>
<rect x="35.93" y="41.6" width="2.06" height="32.5" rx="0.35" fill="#c01f40" stroke="#ff90a6" stroke-width="1"/>
<rect x="40.01" y="80.3" width="2.0" height="4.6" rx="0.5" fill="#dabcc3"/>
<rect x="44.07" y="88.5" width="2.0" height="2.0" rx="0.5" fill="#dabcc3"/>
<rect x="48.12" y="82.0" width="2.0" height="5.8" rx="0.5" fill="#bdd2c8"/>
<rect x="52.17" y="73.9" width="2.0" height="24.3" rx="0.5" fill="#dabcc3"/>
<rect x="56.22" y="90.7" width="2.0" height="8.7" rx="0.5" fill="#bdd2c8"/>
<rect x="60.27" y="84.3" width="2.0" height="19.7" rx="0.5" fill="#dabcc3"/>
<rect x="64.30" y="101.6" width="2.06" height="2.5" rx="0.35" fill="#c01f40" stroke="#ff90a6" stroke-width="1"/>
<rect x="68.35" y="101.6" width="2.06" height="11.2" rx="0.35" fill="#1f7a30" stroke="#a8e4a8" stroke-width="1"/>
<rect x="72.40" y="110.9" width="2.06" height="31.2" rx="0.35" fill="#c01f40" stroke="#ff90a6" stroke-width="1"/>
<rect x="76.45" y="141.9" width="2.06" height="5.4" rx="0.35" fill="#c01f40" stroke="#ff90a6" stroke-width="1"/>
<rect x="80.50" y="163.4" width="2.06" height="26.8" rx="0.35" fill="#c01f40" stroke="#ff90a6" stroke-width="1"/>
<rect x="84.56" y="172.6" width="2.06" height="13.5" rx="0.35" fill="#1f7a30" stroke="#a8e4a8" stroke-width="1"/>
<rect x="88.61" y="161.5" width="2.06" height="12.4" rx="0.35" fill="#c01f40" stroke="#ff90a6" stroke-width="1"/>
<rect x="92.66" y="179.8" width="2.06" height="32.9" rx="0.35" fill="#c01f40" stroke="#ff90a6" stroke-width="1"/>
<rect x="96.71" y="188.5" width="2.06" height="13.1" rx="0.35" fill="#1f7a30" stroke="#a8e4a8" stroke-width="1"/>
<rect x="100.76" y="185.6" width="2.06" height="7.4" rx="0.35" fill="#1f7a30" stroke="#a8e4a8" stroke-width="1"/>
<rect x="104.82" y="183.3" width="2.06" height="6.8" rx="0.35" fill="#1f7a30" stroke="#a8e4a8" stroke-width="1"/>
<rect x="108.87" y="172.5" width="2.06" height="7.2" rx="0.35" fill="#1f7a30" stroke="#a8e4a8" stroke-width="1"/>
<rect x="112.92" y="170.5" width="2.06" height="10.3" rx="0.35" fill="#1f7a30" stroke="#a8e4a8" stroke-width="1"/>
<rect x="117.00" y="168.9" width="2.0" height="11.3" rx="0.5" fill="#bdd2c8"/>
<rect x="121.05" y="157.0" width="2.0" height="2.8" rx="0.5" fill="#dabcc3"/>
<rect x="125.11" y="140.3" width="2.0" height="20.3" rx="0.5" fill="#bdd2c8"/>
<rect x="129.16" y="143.8" width="2.0" height="6.9" rx="0.5" fill="#dabcc3"/>
<rect x="133.21" y="158.5" width="2.0" height="3.5" rx="0.5" fill="#dabcc3"/>
<rect x="137.26" y="164.5" width="2.0" height="21.8" rx="0.5" fill="#dabcc3"/>
<rect x="141.28" y="188.7" width="2.06" height="14.1" rx="0.35" fill="#1f7a30" stroke="#a8e4a8" stroke-width="1"/>
<rect x="145.34" y="185.8" width="2.06" height="10.6" rx="0.35" fill="#1f7a30" stroke="#a8e4a8" stroke-width="1"/>
<rect x="149.39" y="173.7" width="2.06" height="23.9" rx="0.35" fill="#1f7a30" stroke="#a8e4a8" stroke-width="1"/>
<rect x="153.44" y="217.8" width="2.06" height="27.6" rx="0.35" fill="#c01f40" stroke="#ff90a6" stroke-width="1"/>
<rect x="157.49" y="269.5" width="2.06" height="14.2" rx="0.35" fill="#c01f40" stroke="#ff90a6" stroke-width="1"/>
<rect x="161.54" y="257.4" width="2.06" height="46.2" rx="0.35" fill="#1f7a30" stroke="#a8e4a8" stroke-width="1"/>
<rect x="165.60" y="227.3" width="2.06" height="29.1" rx="0.35" fill="#c01f40" stroke="#ff90a6" stroke-width="1"/>
<rect x="169.65" y="158.6" width="2.06" height="91.5" rx="0.35" fill="#1f7a30" stroke="#a8e4a8" stroke-width="1"/>
<rect x="173.70" y="180.6" width="2.06" height="7.1" rx="0.35" fill="#c01f40" stroke="#ff90a6" stroke-width="1"/>
<rect x="177.75" y="176.6" width="2.06" height="12.9" rx="0.35" fill="#1f7a30" stroke="#a8e4a8" stroke-width="1"/>
<rect x="181.80" y="158.6" width="2.06" height="24.5" rx="0.35" fill="#c01f40" stroke="#ff90a6" stroke-width="1"/>
<rect x="185.86" y="165.0" width="2.06" height="13.5" rx="0.35" fill="#1f7a30" stroke="#a8e4a8" stroke-width="1"/>
<rect x="189.91" y="181.8" width="2.06" height="7.1" rx="0.35" fill="#c01f40" stroke="#ff90a6" stroke-width="1"/>
<rect x="193.99" y="184.2" width="2.0" height="5.2" rx="0.5" fill="#dabcc3"/>
<rect x="198.04" y="199.8" width="2.0" height="18.5" rx="0.5" fill="#dabcc3"/>
<rect x="202.09" y="203.9" width="2.0" height="7.5" rx="0.5" fill="#bdd2c8"/>
<rect x="206.15" y="178.0" width="2.0" height="5.0" rx="0.5" fill="#dabcc3"/>
<rect x="210.20" y="153.0" width="2.0" height="30.5" rx="0.5" fill="#bdd2c8"/>
<rect x="214.25" y="141.7" width="2.0" height="12.8" rx="0.5" fill="#bdd2c8"/>
<rect x="218.27" y="135.2" width="2.06" height="2.5" rx="0.35" fill="#1f7a30" stroke="#a8e4a8" stroke-width="1"/>
<rect x="222.32" y="122.4" width="2.06" height="18.7" rx="0.35" fill="#1f7a30" stroke="#a8e4a8" stroke-width="1"/>
<rect x="226.38" y="126.5" width="2.06" height="15.2" rx="0.35" fill="#1f7a30" stroke="#a8e4a8" stroke-width="1"/>
<rect x="230.43" y="117.8" width="2.06" height="4.2" rx="0.35" fill="#c01f40" stroke="#ff90a6" stroke-width="1"/>
<rect x="234.48" y="106.8" width="2.06" height="3.0" rx="0.35" fill="#1f7a30" stroke="#a8e4a8" stroke-width="1"/>
<rect x="238.53" y="85.9" width="2.06" height="33.2" rx="0.35" fill="#1f7a30" stroke="#a8e4a8" stroke-width="1"/>
<rect x="242.58" y="98.7" width="2.06" height="9.4" rx="0.35" fill="#1f7a30" stroke="#a8e4a8" stroke-width="1"/>
<rect x="246.64" y="102.7" width="2.06" height="4.8" rx="0.35" fill="#1f7a30" stroke="#a8e4a8" stroke-width="1"/>
<rect x="250.22" y="176.1" width="3" height="1.4" rx="0.5" fill="#d3dcd5"/>
<rect x="254.74" y="171.8" width="2.06" height="7.1" rx="0.35" fill="#c01f40" stroke="#ff90a6" stroke-width="1"/>
<rect x="258.79" y="141.0" width="2.06" height="17.6" rx="0.35" fill="#1f7a30" stroke="#a8e4a8" stroke-width="1"/>
<rect x="262.84" y="115.5" width="2.06" height="29.1" rx="0.35" fill="#1f7a30" stroke="#a8e4a8" stroke-width="1"/>
<rect x="266.90" y="115.5" width="2.06" height="14.6" rx="0.35" fill="#c01f40" stroke="#ff90a6" stroke-width="1"/>
<rect x="270.98" y="135.3" width="2.0" height="2.3" rx="0.5" fill="#bdd2c8"/>
<rect x="275.03" y="118.5" width="2.0" height="12.1" rx="0.5" fill="#bdd2c8"/>
<rect x="279.08" y="117.3" width="2.0" height="10.4" rx="0.5" fill="#bdd2c8"/>
<rect x="283.13" y="117.3" width="2.0" height="2.3" rx="0.5" fill="#dabcc3"/>
<rect x="287.19" y="129.5" width="2.0" height="5.2" rx="0.5" fill="#dabcc3"/>
<rect x="291.24" y="119.5" width="2.0" height="2.0" rx="0.5" fill="#bdd2c8"/>
<rect x="295.26" y="131.7" width="2.06" height="7.1" rx="0.35" fill="#1f7a30" stroke="#a8e4a8" stroke-width="1"/>
<rect x="299.31" y="118.4" width="2.06" height="3.6" rx="0.35" fill="#1f7a30" stroke="#a8e4a8" stroke-width="1"/>
<rect x="303.36" y="118.4" width="2.06" height="1.9" rx="0.35" fill="#c01f40" stroke="#ff90a6" stroke-width="1"/>
<rect x="307.42" y="114.3" width="2.06" height="25.7" rx="0.35" fill="#c01f40" stroke="#ff90a6" stroke-width="1"/>
<rect x="311.47" y="139.8" width="2.06" height="3.4" rx="0.35" fill="#c01f40" stroke="#ff90a6" stroke-width="1"/>
<rect x="315.52" y="137.5" width="2.06" height="10.0" rx="0.35" fill="#1f7a30" stroke="#a8e4a8" stroke-width="1"/>
<rect x="319.57" y="133.4" width="2.06" height="6.0" rx="0.35" fill="#1f7a30" stroke="#a8e4a8" stroke-width="1"/>
<rect x="323.62" y="137.5" width="2.06" height="6.5" rx="0.35" fill="#c01f40" stroke="#ff90a6" stroke-width="1"/>
<rect x="327.68" y="128.3" width="2.06" height="11.8" rx="0.35" fill="#1f7a30" stroke="#a8e4a8" stroke-width="1"/>
<rect x="331.73" y="116.2" width="2.06" height="5.4" rx="0.35" fill="#1f7a30" stroke="#a8e4a8" stroke-width="1"/>
<rect x="335.78" y="118.5" width="2.06" height="21.6" rx="0.35" fill="#c01f40" stroke="#ff90a6" stroke-width="1"/>
<rect x="339.83" y="138.2" width="2.06" height="6.0" rx="0.35" fill="#c01f40" stroke="#ff90a6" stroke-width="1"/>
<rect x="343.88" y="141.7" width="2.06" height="4.8" rx="0.35" fill="#1f7a30" stroke="#a8e4a8" stroke-width="1"/>
<rect x="347.97" y="142.4" width="2.0" height="2.3" rx="0.5" fill="#dabcc3"/>
<rect x="351.52" y="150.7" width="3" height="1.4" rx="0.5" fill="#d3dcd5"/>
<rect x="356.07" y="141.2" width="2.0" height="5.2" rx="0.5" fill="#bdd2c8"/>
<rect x="360.12" y="133.7" width="2.0" height="9.2" rx="0.5" fill="#bdd2c8"/>
<rect x="364.17" y="130.2" width="2.0" height="20.3" rx="0.5" fill="#dabcc3"/>
<rect x="368.23" y="145.8" width="2.0" height="13.3" rx="0.5" fill="#dabcc3"/>
<rect x="372.25" y="131.8" width="2.06" height="27.3" rx="0.35" fill="#1f7a30" stroke="#a8e4a8" stroke-width="1"/>
<rect x="375.83" y="120.8" width="3" height="1.4" rx="0.5" fill="#d3dcd5"/>
<rect x="380.35" y="117.9" width="2.06" height="9.5" rx="0.35" fill="#c01f40" stroke="#ff90a6" stroke-width="1"/>
<rect x="384.40" y="125.0" width="2.06" height="1.0" rx="0.35" fill="#1f7a30" stroke="#a8e4a8" stroke-width="1"/>
<rect x="388.46" y="125.5" width="2.06" height="5.9" rx="0.35" fill="#c01f40" stroke="#ff90a6" stroke-width="1"/>
<rect x="392.51" y="110.4" width="2.06" height="14.7" rx="0.35" fill="#1f7a30" stroke="#a8e4a8" stroke-width="1"/>
<rect x="396.56" y="113.9" width="2.06" height="22.7" rx="0.35" fill="#c01f40" stroke="#ff90a6" stroke-width="1"/>
<rect x="400.61" y="140.0" width="2.06" height="2.4" rx="0.35" fill="#1f7a30" stroke="#a8e4a8" stroke-width="1"/>
<rect x="404.66" y="110.4" width="2.06" height="21.6" rx="0.35" fill="#1f7a30" stroke="#a8e4a8" stroke-width="1"/>
<rect x="408.72" y="102.3" width="2.06" height="8.9" rx="0.35" fill="#1f7a30" stroke="#a8e4a8" stroke-width="1"/>
<rect x="412.77" y="95.9" width="2.06" height="3.1" rx="0.35" fill="#1f7a30" stroke="#a8e4a8" stroke-width="1"/>
<rect x="416.82" y="86.7" width="2.06" height="7.1" rx="0.35" fill="#c01f40" stroke="#ff90a6" stroke-width="1"/>
<rect x="420.90" y="92.5" width="2.0" height="65.4" rx="0.5" fill="#dabcc3"/>
<rect x="424.95" y="156.7" width="2.0" height="8.6" rx="0.5" fill="#dabcc3"/>
<rect x="429.01" y="131.3" width="2.0" height="31.7" rx="0.5" fill="#bdd2c8"/>
<rect x="433.06" y="115.7" width="2.0" height="12.8" rx="0.5" fill="#bdd2c8"/>
<rect x="437.11" y="115.1" width="2.0" height="13.4" rx="0.5" fill="#dabcc3"/>
<rect x="441.16" y="115.7" width="2.0" height="13.3" rx="0.5" fill="#bdd2c8"/>
<rect x="445.18" y="110.4" width="2.06" height="1.9" rx="0.35" fill="#c01f40" stroke="#ff90a6" stroke-width="1"/>
<rect x="449.24" y="100.6" width="2.06" height="12.9" rx="0.35" fill="#1f7a30" stroke="#a8e4a8" stroke-width="1"/>
<rect x="453.29" y="100.6" width="2.06" height="16.9" rx="0.35" fill="#c01f40" stroke="#ff90a6" stroke-width="1"/>
<rect x="457.34" y="115.6" width="2.06" height="1.3" rx="0.35" fill="#1f7a30" stroke="#a8e4a8" stroke-width="1"/>
<rect x="461.39" y="113.9" width="2.06" height="4.2" rx="0.35" fill="#c01f40" stroke="#ff90a6" stroke-width="1"/>
<rect x="465.44" y="114.5" width="2.06" height="3.0" rx="0.35" fill="#c01f40" stroke="#ff90a6" stroke-width="1"/>
<rect x="469.03" y="116.0" width="3" height="1.4" rx="0.5" fill="#e4d2d5"/>
<rect x="473.55" y="112.2" width="2.06" height="5.9" rx="0.35" fill="#c01f40" stroke="#ff90a6" stroke-width="1"/>
<rect x="477.60" y="117.9" width="2.06" height="25.1" rx="0.35" fill="#c01f40" stroke="#ff90a6" stroke-width="1"/>
<rect x="481.65" y="138.2" width="2.06" height="19.9" rx="0.35" fill="#c01f40" stroke="#ff90a6" stroke-width="1"/>
<rect x="485.70" y="162.7" width="2.06" height="16.3" rx="0.35" fill="#c01f40" stroke="#ff90a6" stroke-width="1"/>
<rect x="489.76" y="170.2" width="2.06" height="4.8" rx="0.35" fill="#1f7a30" stroke="#a8e4a8" stroke-width="1"/>
<rect x="493.81" y="170.8" width="2.06" height="18.1" rx="0.35" fill="#c01f40" stroke="#ff90a6" stroke-width="1"/>
<rect x="497.89" y="182.4" width="2.0" height="4.7" rx="0.5" fill="#dabcc3"/>
<rect x="501.94" y="361.9" width="2.0" height="10.4" rx="0.5" fill="#bdd2c8"/>
<rect x="505.99" y="355.7" width="2.0" height="14.9" rx="0.5" fill="#dabcc3"/>
<rect x="510.05" y="368.8" width="2.0" height="5.8" rx="0.5" fill="#bdd2c8"/>
<rect x="514.10" y="335.2" width="2.0" height="30.7" rx="0.5" fill="#bdd2c8"/>
<rect x="518.15" y="323.0" width="2.0" height="6.4" rx="0.5" fill="#dabcc3"/>
<rect x="522.17" y="339.7" width="2.06" height="6.6" rx="0.35" fill="#c01f40" stroke="#ff90a6" stroke-width="1"/>
<rect x="526.22" y="331.6" width="2.06" height="11.2" rx="0.35" fill="#1f7a30" stroke="#a8e4a8" stroke-width="1"/>
<rect x="530.28" y="317.7" width="2.06" height="9.5" rx="0.35" fill="#1f7a30" stroke="#a8e4a8" stroke-width="1"/>
<rect x="534.33" y="313.7" width="2.06" height="25.4" rx="0.35" fill="#c01f40" stroke="#ff90a6" stroke-width="1"/>
<rect x="538.38" y="327.6" width="2.06" height="11.5" rx="0.35" fill="#1f7a30" stroke="#a8e4a8" stroke-width="1"/>
<rect x="542.43" y="332.5" width="2.06" height="9.7" rx="0.35" fill="#c01f40" stroke="#ff90a6" stroke-width="1"/>
<rect x="546.48" y="323.5" width="2.06" height="13.5" rx="0.35" fill="#1f7a30" stroke="#a8e4a8" stroke-width="1"/>
<rect x="550.54" y="324.7" width="2.06" height="18.7" rx="0.35" fill="#c01f40" stroke="#ff90a6" stroke-width="1"/>
<rect x="554.59" y="340.3" width="2.06" height="3.1" rx="0.35" fill="#c01f40" stroke="#ff90a6" stroke-width="1"/>
<rect x="558.17" y="339.3" width="3" height="1.4" rx="0.5" fill="#d3dcd5"/>
<rect x="562.69" y="329.3" width="2.06" height="8.9" rx="0.35" fill="#1f7a30" stroke="#a8e4a8" stroke-width="1"/>
<rect x="566.74" y="330.5" width="2.06" height="3.0" rx="0.35" fill="#c01f40" stroke="#ff90a6" stroke-width="1"/>
<rect x="570.80" y="349.3" width="2.06" height="13.8" rx="0.35" fill="#1f7a30" stroke="#a8e4a8" stroke-width="1"/>
<rect x="574.88" y="349.5" width="2.0" height="2.0" rx="0.5" fill="#dabcc3"/>
<rect x="578.43" y="353.1" width="3" height="1.4" rx="0.5" fill="#d3dcd5"/>
<rect x="582.98" y="333.2" width="2.0" height="16.2" rx="0.5" fill="#bdd2c8"/>
<rect x="587.03" y="320.1" width="2.0" height="10.5" rx="0.5" fill="#bdd2c8"/>
<rect x="591.09" y="320.1" width="2.0" height="5.2" rx="0.5" fill="#dabcc3"/>
<rect x="595.14" y="323.6" width="2.0" height="5.2" rx="0.5" fill="#dabcc3"/>
<rect x="599.16" y="316.6" width="2.06" height="6.5" rx="0.35" fill="#1f7a30" stroke="#a8e4a8" stroke-width="1"/>
<rect x="603.21" y="316.6" width="2.06" height="9.4" rx="0.35" fill="#c01f40" stroke="#ff90a6" stroke-width="1"/>
<rect x="607.26" y="315.4" width="2.06" height="5.4" rx="0.35" fill="#1f7a30" stroke="#a8e4a8" stroke-width="1"/>
<rect x="611.32" y="315.4" width="2.06" height="9.7" rx="0.35" fill="#c01f40" stroke="#ff90a6" stroke-width="1"/>
<rect x="615.37" y="321.8" width="2.06" height="3.6" rx="0.35" fill="#1f7a30" stroke="#a8e4a8" stroke-width="1"/>
<rect x="619.42" y="312.8" width="2.06" height="2.5" rx="0.35" fill="#c01f40" stroke="#ff90a6" stroke-width="1"/>
<rect x="623.47" y="288.2" width="2.06" height="15.2" rx="0.35" fill="#1f7a30" stroke="#a8e4a8" stroke-width="1"/>
<rect x="627.52" y="282.4" width="2.06" height="14.6" rx="0.35" fill="#1f7a30" stroke="#a8e4a8" stroke-width="1"/>
<rect x="631.11" y="280.0" width="3" height="1.4" rx="0.5" fill="#d3dcd5"/>
<rect x="635.63" y="279.5" width="2.06" height="14.0" rx="0.35" fill="#c01f40" stroke="#ff90a6" stroke-width="1"/>
<rect x="639.68" y="296.8" width="2.06" height="2.5" rx="0.35" fill="#1f7a30" stroke="#a8e4a8" stroke-width="1"/>
<rect x="643.73" y="287.6" width="2.06" height="9.4" rx="0.35" fill="#1f7a30" stroke="#a8e4a8" stroke-width="1"/>
<rect x="647.78" y="283.5" width="2.06" height="1.9" rx="0.35" fill="#c01f40" stroke="#ff90a6" stroke-width="1"/>
<rect x="651.37" y="287.6" width="3" height="1.4" rx="0.5" fill="#e4d2d5"/>
<rect x="655.92" y="279.5" width="2.0" height="12.2" rx="0.5" fill="#bdd2c8"/>
<rect x="659.97" y="270.9" width="2.0" height="12.7" rx="0.5" fill="#bdd2c8"/>
<rect x="664.02" y="266.8" width="2.0" height="9.3" rx="0.5" fill="#dabcc3"/>
<rect x="667.57" y="270.4" width="3" height="1.4" rx="0.5" fill="#d3dcd5"/>
<rect x="672.13" y="269.7" width="2.0" height="12.7" rx="0.5" fill="#dabcc3"/>
<rect x="676.15" y="270.2" width="2.06" height="7.1" rx="0.35" fill="#1f7a30" stroke="#a8e4a8" stroke-width="1"/>
<rect x="680.20" y="272.5" width="2.06" height="3.7" rx="0.35" fill="#1f7a30" stroke="#a8e4a8" stroke-width="1"/>
<rect x="684.25" y="269.6" width="2.06" height="28.0" rx="0.35" fill="#c01f40" stroke="#ff90a6" stroke-width="1"/>
<rect x="688.30" y="284.7" width="2.06" height="3.6" rx="0.35" fill="#c01f40" stroke="#ff90a6" stroke-width="1"/>
<rect x="692.36" y="298.6" width="2.06" height="4.2" rx="0.35" fill="#1f7a30" stroke="#a8e4a8" stroke-width="1"/>
<rect x="696.41" y="292.8" width="2.06" height="1.3" rx="0.35" fill="#c01f40" stroke="#ff90a6" stroke-width="1"/>
<rect x="700.46" y="292.8" width="2.06" height="4.2" rx="0.35" fill="#c01f40" stroke="#ff90a6" stroke-width="1"/>
<rect x="704.51" y="295.7" width="2.06" height="5.9" rx="0.35" fill="#1f7a30" stroke="#a8e4a8" stroke-width="1"/>
<rect x="708.56" y="283.5" width="2.06" height="14.7" rx="0.35" fill="#1f7a30" stroke="#a8e4a8" stroke-width="1"/>
<rect x="712.62" y="284.7" width="2.06" height="10.0" rx="0.35" fill="#1f7a30" stroke="#a8e4a8" stroke-width="1"/>
<rect x="716.67" y="282.9" width="2.06" height="1.9" rx="0.35" fill="#c01f40" stroke="#ff90a6" stroke-width="1"/>
<rect x="720.72" y="282.9" width="2.06" height="1.9" rx="0.35" fill="#1f7a30" stroke="#a8e4a8" stroke-width="1"/>
<rect x="724.77" y="276.0" width="2.06" height="1.3" rx="0.35" fill="#c01f40" stroke="#ff90a6" stroke-width="1"/>
<rect x="728.85" y="271.6" width="2.0" height="8.7" rx="0.5" fill="#dabcc3"/>
<rect x="732.41" y="273.7" width="3" height="1.4" rx="0.5" fill="#e4d2d5"/>
<rect x="736.96" y="283.5" width="2.0" height="5.8" rx="0.5" fill="#dabcc3"/>
<rect x="740.51" y="279.1" width="3" height="1.4" rx="0.5" fill="#e4d2d5"/>
<rect x="745.06" y="268.9" width="2.0" height="19.7" rx="0.5" fill="#bdd2c8"/>
<rect x="749.11" y="260.8" width="2.0" height="12.7" rx="0.5" fill="#bdd2c8"/>
<rect x="753.14" y="269.4" width="2.06" height="10.6" rx="0.35" fill="#c01f40" stroke="#ff90a6" stroke-width="1"/>
<rect x="757.19" y="274.6" width="2.06" height="10.6" rx="0.35" fill="#1f7a30" stroke="#a8e4a8" stroke-width="1"/>
<rect x="761.24" y="319.7" width="2.06" height="36.6" rx="0.35" fill="#1f7a30" stroke="#a8e4a8" stroke-width="1"/>
<rect x="765.29" y="308.1" width="2.06" height="17.0" rx="0.35" fill="#1f7a30" stroke="#a8e4a8" stroke-width="1"/>
<rect x="768.87" y="303.5" width="3" height="1.4" rx="0.5" fill="#e4d2d5"/>
<rect x="773.40" y="293.7" width="2.06" height="10.6" rx="0.35" fill="#1f7a30" stroke="#a8e4a8" stroke-width="1"/>
<rect x="777.45" y="294.9" width="2.06" height="11.1" rx="0.35" fill="#c01f40" stroke="#ff90a6" stroke-width="1"/>
<rect x="781.50" y="311.6" width="2.06" height="3.6" rx="0.35" fill="#c01f40" stroke="#ff90a6" stroke-width="1"/>
<rect x="785.55" y="304.6" width="2.06" height="17.3" rx="0.35" fill="#1f7a30" stroke="#a8e4a8" stroke-width="1"/>
<rect x="789.13" y="305.9" width="3" height="1.4" rx="0.5" fill="#e4d2d5"/>
<rect x="793.66" y="310.4" width="2.06" height="11.2" rx="0.35" fill="#c01f40" stroke="#ff90a6" stroke-width="1"/>
<rect x="797.24" y="325.2" width="3" height="1.4" rx="0.5" fill="#e4d2d5"/>
<rect x="801.76" y="319.7" width="2.06" height="20.4" rx="0.35" fill="#c01f40" stroke="#ff90a6" stroke-width="1"/>
<rect x="805.84" y="333.0" width="2.0" height="10.5" rx="0.5" fill="#bdd2c8"/>
<rect x="809.89" y="323.8" width="2.0" height="9.2" rx="0.5" fill="#bdd2c8"/>
<rect x="813.95" y="315.2" width="2.0" height="13.9" rx="0.5" fill="#bdd2c8"/>
<rect x="818.00" y="317.4" width="2.0" height="1.7" rx="0.5" fill="#dabcc3"/>
<rect x="822.05" y="313.5" width="2.0" height="2.9" rx="0.5" fill="#bdd2c8"/>
<rect x="826.10" y="308.5" width="2.0" height="11.3" rx="0.5" fill="#bdd2c8"/>
<rect x="830.12" y="299.5" width="2.06" height="2.5" rx="0.35" fill="#1f7a30" stroke="#a8e4a8" stroke-width="1"/>
<rect x="834.18" y="300.7" width="2.06" height="4.8" rx="0.35" fill="#1f7a30" stroke="#a8e4a8" stroke-width="1"/>
<rect x="838.23" y="280.4" width="2.06" height="18.7" rx="0.35" fill="#1f7a30" stroke="#a8e4a8" stroke-width="1"/>
<rect x="842.28" y="266.5" width="2.06" height="10.6" rx="0.35" fill="#1f7a30" stroke="#a8e4a8" stroke-width="1"/>
<rect x="846.33" y="266.5" width="2.06" height="26.8" rx="0.35" fill="#c01f40" stroke="#ff90a6" stroke-width="1"/>
<rect x="850.38" y="295.1" width="2.06" height="3.1" rx="0.35" fill="#1f7a30" stroke="#a8e4a8" stroke-width="1"/>
<rect x="854.44" y="299.2" width="2.06" height="10.2" rx="0.35" fill="#c01f40" stroke="#ff90a6" stroke-width="1"/>
<rect x="858.49" y="303.7" width="2.06" height="5.7" rx="0.35" fill="#1f7a30" stroke="#a8e4a8" stroke-width="1"/>
<rect x="862.54" y="305.8" width="2.06" height="1.3" rx="0.35" fill="#1f7a30" stroke="#a8e4a8" stroke-width="1"/>
<rect x="866.59" y="306.9" width="2.06" height="4.3" rx="0.35" fill="#c01f40" stroke="#ff90a6" stroke-width="1"/>
<rect x="870.64" y="303.5" width="2.06" height="8.2" rx="0.35" fill="#1f7a30" stroke="#a8e4a8" stroke-width="1"/>
<rect x="874.70" y="324.3" width="2.06" height="3.7" rx="0.35" fill="#c01f40" stroke="#ff90a6" stroke-width="1"/>
<rect x="878.75" y="319.7" width="2.06" height="5.4" rx="0.35" fill="#c01f40" stroke="#ff90a6" stroke-width="1"/>
<rect x="882.83" y="321.5" width="2.0" height="2.9" rx="0.5" fill="#bdd2c8"/>
<rect x="886.88" y="308.8" width="2.0" height="3.4" rx="0.5" fill="#bdd2c8"/>
<rect x="890.93" y="309.9" width="2.0" height="8.7" rx="0.5" fill="#dabcc3"/>
<rect x="894.99" y="313.4" width="2.0" height="6.4" rx="0.5" fill="#bdd2c8"/>
<rect x="899.04" y="310.5" width="2.0" height="6.9" rx="0.5" fill="#bdd2c8"/>
<rect x="903.09" y="313.4" width="2.0" height="3.5" rx="0.5" fill="#dabcc3"/>
<rect x="907.11" y="318.5" width="2.06" height="2.5" rx="0.35" fill="#c01f40" stroke="#ff90a6" stroke-width="1"/>
<rect x="911.16" y="322.6" width="2.06" height="5.4" rx="0.35" fill="#c01f40" stroke="#ff90a6" stroke-width="1"/>
<rect x="915.22" y="324.9" width="2.06" height="16.4" rx="0.35" fill="#c01f40" stroke="#ff90a6" stroke-width="1"/>
<rect x="919.27" y="337.1" width="2.06" height="3.0" rx="0.35" fill="#c01f40" stroke="#ff90a6" stroke-width="1"/>
<rect x="923.32" y="337.1" width="2.06" height="4.8" rx="0.35" fill="#1f7a30" stroke="#a8e4a8" stroke-width="1"/>
<rect x="927.37" y="323.7" width="2.06" height="11.2" rx="0.35" fill="#1f7a30" stroke="#a8e4a8" stroke-width="1"/>
<rect x="931.42" y="327.8" width="2.06" height="11.2" rx="0.35" fill="#c01f40" stroke="#ff90a6" stroke-width="1"/>
<rect x="935.48" y="330.7" width="2.06" height="8.3" rx="0.35" fill="#1f7a30" stroke="#a8e4a8" stroke-width="1"/>
<rect x="939.53" y="332.4" width="2.06" height="1.3" rx="0.35" fill="#c01f40" stroke="#ff90a6" stroke-width="1"/>
<rect x="943.58" y="334.7" width="2.06" height="2.5" rx="0.35" fill="#c01f40" stroke="#ff90a6" stroke-width="1"/>
<rect x="947.16" y="352.6" width="3" height="1.4" rx="0.5" fill="#e4d2d5"/>
<rect x="951.68" y="352.7" width="2.06" height="1.3" rx="0.35" fill="#c01f40" stroke="#ff90a6" stroke-width="1"/>
<rect x="955.74" y="352.7" width="2.06" height="9.3" rx="0.35" fill="#c01f40" stroke="#ff90a6" stroke-width="1"/>
<rect x="959.82" y="361.0" width="2.0" height="11.6" rx="0.5" fill="#bdd2c8"/>
<rect x="963.87" y="357.5" width="2.0" height="3.5" rx="0.5" fill="#dabcc3"/>
<rect x="967.92" y="341.9" width="2.0" height="11.1" rx="0.5" fill="#bdd2c8"/>
<rect x="971.97" y="294.0" width="2.0" height="16.3" rx="0.5" fill="#dabcc3"/>
<rect x="976.03" y="297.5" width="2.0" height="13.4" rx="0.5" fill="#bdd2c8"/>
<rect x="980.08" y="296.3" width="2.0" height="13.4" rx="0.5" fill="#dabcc3"/>
<rect x="984.13" y="304.5" width="2.0" height="2.8" rx="0.5" fill="#dabcc3"/>
<rect x="987.68" y="310.1" width="3" height="1.4" rx="0.5" fill="#d3dcd5"/>
<rect x="992.20" y="313.6" width="2.06" height="4.4" rx="0.35" fill="#1f7a30" stroke="#a8e4a8" stroke-width="1"/>
<rect x="996.26" y="313.8" width="2.06" height="2.2" rx="0.35" fill="#1f7a30" stroke="#a8e4a8" stroke-width="1"/>
<rect x="1000.31" y="315.8" width="2.06" height="13.4" rx="0.35" fill="#c01f40" stroke="#ff90a6" stroke-width="1"/>
<rect x="1004.36" y="314.7" width="2.06" height="18.0" rx="0.35" fill="#1f7a30" stroke="#a8e4a8" stroke-width="1"/>
<rect x="1008.41" y="315.8" width="2.06" height="15.7" rx="0.35" fill="#c01f40" stroke="#ff90a6" stroke-width="1"/>
<rect x="1012.46" y="300.3" width="2.06" height="7.7" rx="0.35" fill="#1f7a30" stroke="#a8e4a8" stroke-width="1"/>
<rect x="1016.52" y="274.3" width="2.06" height="29.7" rx="0.35" fill="#1f7a30" stroke="#a8e4a8" stroke-width="1"/>
<rect x="1020.57" y="271.9" width="2.06" height="5.4" rx="0.35" fill="#c01f40" stroke="#ff90a6" stroke-width="1"/>
<rect x="1024.62" y="258.6" width="2.06" height="19.3" rx="0.35" fill="#1f7a30" stroke="#a8e4a8" stroke-width="1"/>
<rect x="1028.67" y="261.5" width="2.06" height="26.2" rx="0.35" fill="#c01f40" stroke="#ff90a6" stroke-width="1"/>
</g>
<g clip-path="url(#cp)" fill="none" stroke-linejoin="round" stroke-linecap="round">
<path d="M12.5,150.0 L19.0,138.0 L27.6,118.6 L34.0,108.0 L41.0,99.4 L52.6,90.1 L61.8,84.9 L68.8,83.2 L75.7,84.9 L87.3,97.1 L98.9,113.3 L112.8,138.0 L122.1,147.8 L134.3,157.1 L149.9,172.0 L155.7,179.9 L160.5,186.0 L165.6,191.3 L170.0,190.6 L177.0,189.1 L184.2,188.1 L190.0,188.8 L194.2,189.9 L200.0,193.3 L205.6,196.3 L209.3,197.2 L212.7,196.3 L217.5,194.3 L222.7,191.3 L227.0,188.0 L231.2,184.2 L235.0,176.0 L238.4,167.0 L242.6,158.5 L246.9,152.5 L251.0,152.0 L255.5,151.9 L260.0,149.0 L264.0,145.7 L269.5,144.4 L277.1,135.6 L284.3,128.5 L291.4,125.7 L298.5,124.2 L305.7,124.7 L312.8,127.4 L319.9,131.4 L327.0,133.5 L331.3,131.4 L337.0,128.8 L344.2,130.6 L352.7,132.1 L361.3,134.2 L369.8,136.3 L378.4,136.8 L386.9,135.9 L395.5,134.9 L401.2,133.8 L406.9,131.4 L412.6,129.4 L418.7,128.6 L430.3,129.6 L441.9,126.7 L448.8,122.7 L456.0,120.9 L463.2,120.9 L480.6,120.3 L486.3,124.4 L494.5,131.4 L497.9,136.0 L503.2,150.0 L508.4,163.0 L532.7,228.0 L554.5,290.0 L579.4,341.0 L592.2,335.2 L620.6,330.8 L631.3,323.4 L639.9,319.1 L648.4,314.9 L657.0,308.4 L665.5,300.6 L674.1,294.9 L681.2,290.6 L688.3,287.8 L696.9,285.3 L702.6,284.6 L711.2,284.7 L720.0,284.3 L731.7,282.6 L740.0,283.2 L759.0,285.1 L782.1,287.4 L794.9,291.5 L811.1,301.4 L828.5,309.5 L837.8,311.8 L845.9,308.3 L860.0,308.9 L879.0,308.8 L888.2,306.4 L904.5,305.6 L914.9,308.8 L925.3,316.3 L942.7,324.4 L960.1,332.5 L968.2,335.4 L980.0,334.2 L987.9,333.2 L1001.8,329.7 L1016.9,323.9 L1026.2,317.5 L1029.7,316.6" stroke="#141000" stroke-opacity="0.62" stroke-width="2.2"/>
<path d="M12.5,150.0 L19.0,138.0 L27.6,118.6 L34.0,108.0 L41.0,99.4 L52.6,90.1 L61.8,84.9 L68.8,83.2 L75.7,84.9 L87.3,97.1 L98.9,113.3 L112.8,138.0 L122.1,147.8 L134.3,157.1 L149.9,172.0 L155.7,179.9 L160.5,186.0 L165.6,191.3 L170.0,190.6 L177.0,189.1 L184.2,188.1 L190.0,188.8 L194.2,189.9 L200.0,193.3 L205.6,196.3 L209.3,197.2 L212.7,196.3 L217.5,194.3 L222.7,191.3 L227.0,188.0 L231.2,184.2 L235.0,176.0 L238.4,167.0 L242.6,158.5 L246.9,152.5 L251.0,152.0 L255.5,151.9 L260.0,149.0 L264.0,145.7 L269.5,144.4 L277.1,135.6 L284.3,128.5 L291.4,125.7 L298.5,124.2 L305.7,124.7 L312.8,127.4 L319.9,131.4 L327.0,133.5 L331.3,131.4 L337.0,128.8 L344.2,130.6 L352.7,132.1 L361.3,134.2 L369.8,136.3 L378.4,136.8 L386.9,135.9 L395.5,134.9 L401.2,133.8 L406.9,131.4 L412.6,129.4 L418.7,128.6 L430.3,129.6 L441.9,126.7 L448.8,122.7 L456.0,120.9 L463.2,120.9 L480.6,120.3 L486.3,124.4 L494.5,131.4 L497.9,136.0 L503.2,150.0 L508.4,163.0 L532.7,228.0 L554.5,290.0 L579.4,341.0 L592.2,335.2 L620.6,330.8 L631.3,323.4 L639.9,319.1 L648.4,314.9 L657.0,308.4 L665.5,300.6 L674.1,294.9 L681.2,290.6 L688.3,287.8 L696.9,285.3 L702.6,284.6 L711.2,284.7 L720.0,284.3 L731.7,282.6 L740.0,283.2 L759.0,285.1 L782.1,287.4 L794.9,291.5 L811.1,301.4 L828.5,309.5 L837.8,311.8 L845.9,308.3 L860.0,308.9 L879.0,308.8 L888.2,306.4 L904.5,305.6 L914.9,308.8 L925.3,316.3 L942.7,324.4 L960.1,332.5 L968.2,335.4 L980.0,334.2 L987.9,333.2 L1001.8,329.7 L1016.9,323.9 L1026.2,317.5 L1029.7,316.6" stroke="#ffd700" stroke-width="1.2"/>
<path d="M12.5,171.0 L29.4,159.4 L46.8,151.3 L64.1,144.3 L73.4,142.0 L93.1,142.0 L116.3,140.9 L120.0,139.9 L127.9,137.4 L134.3,135.7 L142.0,134.7 L149.9,134.5 L155.7,136.4 L167.1,140.2 L177.0,141.1 L188.4,143.5 L199.9,148.5 L211.3,153.5 L219.8,156.3 L234.1,160.6 L244.1,162.0 L255.5,166.3 L262.6,167.3 L271.8,167.9 L284.3,164.9 L298.5,160.6 L315.6,157.0 L329.9,155.3 L344.2,153.5 L352.7,150.6 L361.3,146.3 L369.8,142.8 L378.4,140.6 L386.9,138.5 L395.5,136.3 L401.2,134.9 L406.9,132.1 L412.6,129.8 L421.2,128.4 L430.3,129.2 L441.9,130.8 L449.3,130.8 L463.2,128.5 L471.3,127.3 L480.6,129.0 L489.8,130.8 L497.9,132.5 L509.5,146.4 L526.9,163.0 L570.0,204.5 L619.5,255.3 L626.0,259.5 L656.3,284.8 L701.5,314.9 L740.0,302.7 L759.0,297.3 L776.3,293.8 L798.4,292.7 L828.5,293.2 L860.0,295.0 L884.8,299.5 L907.9,303.0 L942.7,311.1 L960.1,317.4 L970.5,319.8 L980.0,320.3 L999.5,320.2 L1016.9,318.1 L1029.7,316.6" stroke="#4a0c0c" stroke-opacity="0.55" stroke-width="2.2"/>
<path d="M12.5,171.0 L29.4,159.4 L46.8,151.3 L64.1,144.3 L73.4,142.0 L93.1,142.0 L116.3,140.9 L120.0,139.9 L127.9,137.4 L134.3,135.7 L142.0,134.7 L149.9,134.5 L155.7,136.4 L167.1,140.2 L177.0,141.1 L188.4,143.5 L199.9,148.5 L211.3,153.5 L219.8,156.3 L234.1,160.6 L244.1,162.0 L255.5,166.3 L262.6,167.3 L271.8,167.9 L284.3,164.9 L298.5,160.6 L315.6,157.0 L329.9,155.3 L344.2,153.5 L352.7,150.6 L361.3,146.3 L369.8,142.8 L378.4,140.6 L386.9,138.5 L395.5,136.3 L401.2,134.9 L406.9,132.1 L412.6,129.8 L421.2,128.4 L430.3,129.2 L441.9,130.8 L449.3,130.8 L463.2,128.5 L471.3,127.3 L480.6,129.0 L489.8,130.8 L497.9,132.5 L509.5,146.4 L526.9,163.0 L570.0,204.5 L619.5,255.3 L626.0,259.5 L656.3,284.8 L701.5,314.9 L740.0,302.7 L759.0,297.3 L776.3,293.8 L798.4,292.7 L828.5,293.2 L860.0,295.0 L884.8,299.5 L907.9,303.0 L942.7,311.1 L960.1,317.4 L970.5,319.8 L980.0,320.3 L999.5,320.2 L1016.9,318.1 L1029.7,316.6" stroke="#f47878" stroke-width="1.2"/>
</g>
<circle cx="118.0" cy="142.2" r="3" fill="#ff1744"/>
<circle cx="243.6" cy="161.4" r="3" fill="#00c853"/>
<circle cx="401.6" cy="135.1" r="3" fill="#ff1744"/>
<circle cx="434.1" cy="129.4" r="3" fill="#00c853"/>
<circle cx="494.8" cy="133.7" r="3" fill="#ff1744"/>
<circle cx="673.1" cy="297.3" r="3" fill="#00c853"/>
<circle cx="798.7" cy="293.5" r="3" fill="#ff1744"/>
<circle cx="1029.7" cy="316.6" r="3" fill="#00c853"/>
<rect x="111.4" y="406.8" width="12.0" height="15.1" fill="#f5153f"/>
<text x="117.4" y="418.1" text-anchor="middle" font-size="10.7" font-weight="bold" fill="#fff">S</text>
<rect x="236.1" y="406.8" width="13.8" height="15.1" fill="#00c853"/>
<text x="243.0" y="418.1" text-anchor="middle" font-size="10.7" font-weight="bold" fill="#fff">B</text>
<rect x="395.0" y="406.8" width="12.0" height="15.1" fill="#f5153f"/>
<text x="401.0" y="418.1" text-anchor="middle" font-size="10.7" font-weight="bold" fill="#fff">S</text>
<rect x="426.5" y="406.8" width="13.8" height="15.1" fill="#00c853"/>
<text x="433.4" y="418.1" text-anchor="middle" font-size="10.7" font-weight="bold" fill="#fff">B</text>
<rect x="488.2" y="406.8" width="12.0" height="15.1" fill="#f5153f"/>
<text x="494.2" y="418.1" text-anchor="middle" font-size="10.7" font-weight="bold" fill="#fff">S</text>
<rect x="665.6" y="406.8" width="13.8" height="15.1" fill="#00c853"/>
<text x="672.5" y="418.1" text-anchor="middle" font-size="10.7" font-weight="bold" fill="#fff">B</text>
<rect x="792.1" y="406.8" width="12.0" height="15.1" fill="#f5153f"/>
<text x="798.1" y="418.1" text-anchor="middle" font-size="10.7" font-weight="bold" fill="#fff">S</text>
<rect x="1022.2" y="406.8" width="13.8" height="15.1" fill="#00c853"/>
<text x="1029.1" y="418.1" text-anchor="middle" font-size="10.7" font-weight="bold" fill="#fff">B</text>
<g clip-path="url(#cv)">
<rect x="10.15" y="581.2" width="5" height="13.3" fill="#1a921a"/>
<rect x="14.20" y="584.1" width="5" height="10.4" fill="#1a921a"/>
<rect x="18.25" y="580.0" width="5" height="14.5" fill="#1a921a"/>
<rect x="22.31" y="574.2" width="5" height="20.3" fill="#1a921a"/>
<rect x="26.36" y="580.0" width="5" height="14.5" fill="#1a921a"/>
<rect x="30.41" y="573.3" width="5" height="21.2" fill="#1a921a"/>
<rect x="34.46" y="578.9" width="5" height="15.6" fill="#ff1500"/>
<rect x="38.51" y="577.9" width="5" height="16.6" fill="#ff1500"/>
<rect x="42.57" y="580.6" width="5" height="13.9" fill="#ff1500"/>
<rect x="46.62" y="582.9" width="5" height="11.6" fill="#1a921a"/>
<rect x="50.67" y="582.1" width="5" height="12.4" fill="#ff1500"/>
<rect x="54.72" y="579.4" width="5" height="15.1" fill="#1a921a"/>
<rect x="58.77" y="578.9" width="5" height="15.6" fill="#ff1500"/>
<rect x="62.83" y="577.9" width="5" height="16.6" fill="#ff1500"/>
<rect x="66.88" y="580.2" width="5" height="14.3" fill="#1a921a"/>
<rect x="70.93" y="581.2" width="5" height="13.3" fill="#ff1500"/>
<rect x="74.98" y="577.9" width="5" height="16.6" fill="#ff1500"/>
<rect x="79.03" y="577.9" width="5" height="16.6" fill="#ff1500"/>
<rect x="83.09" y="575.4" width="5" height="19.1" fill="#1a921a"/>
<rect x="87.14" y="582.1" width="5" height="12.4" fill="#ff1500"/>
<rect x="91.19" y="582.1" width="5" height="12.4" fill="#ff1500"/>
<rect x="95.24" y="582.9" width="5" height="11.6" fill="#1a921a"/>
<rect x="99.29" y="582.3" width="5" height="12.2" fill="#1a921a"/>
<rect x="103.35" y="583.7" width="5" height="10.8" fill="#1a921a"/>
<rect x="107.40" y="582.3" width="5" height="12.2" fill="#1a921a"/>
<rect x="111.45" y="582.3" width="5" height="12.2" fill="#1a921a"/>
<rect x="115.50" y="577.1" width="5" height="17.4" fill="#1a921a"/>
<rect x="119.55" y="583.3" width="5" height="11.2" fill="#ff1500"/>
<rect x="123.61" y="585.6" width="5" height="8.9" fill="#1a921a"/>
<rect x="127.66" y="586.4" width="5" height="8.1" fill="#ff1500"/>
<rect x="131.71" y="585.2" width="5" height="9.3" fill="#ff1500"/>
<rect x="135.76" y="581.2" width="5" height="13.3" fill="#ff1500"/>
<rect x="139.81" y="575.4" width="5" height="19.1" fill="#1a921a"/>
<rect x="143.87" y="582.3" width="5" height="12.2" fill="#1a921a"/>
<rect x="147.92" y="585.2" width="5" height="9.3" fill="#1a921a"/>
<rect x="151.97" y="568.4" width="5" height="26.1" fill="#ff1500"/>
<rect x="156.02" y="560.3" width="5" height="34.2" fill="#ff1500"/>
<rect x="160.07" y="560.3" width="5" height="34.2" fill="#1a921a"/>
<rect x="164.13" y="566.5" width="5" height="28.0" fill="#ff1500"/>
<rect x="168.18" y="566.5" width="5" height="28.0" fill="#1a921a"/>
<rect x="172.23" y="574.2" width="5" height="20.3" fill="#ff1500"/>
<rect x="176.28" y="578.3" width="5" height="16.2" fill="#1a921a"/>
<rect x="180.33" y="581.2" width="5" height="13.3" fill="#ff1500"/>
<rect x="184.39" y="584.3" width="5" height="10.2" fill="#1a921a"/>
<rect x="188.44" y="577.1" width="5" height="17.4" fill="#ff1500"/>
<rect x="192.49" y="586.2" width="5" height="8.3" fill="#ff1500"/>
<rect x="196.54" y="586.2" width="5" height="8.3" fill="#ff1500"/>
<rect x="200.59" y="581.4" width="5" height="13.1" fill="#1a921a"/>
<rect x="204.65" y="582.3" width="5" height="12.2" fill="#ff1500"/>
<rect x="208.70" y="582.3" width="5" height="12.2" fill="#1a921a"/>
<rect x="212.75" y="585.2" width="5" height="9.3" fill="#1a921a"/>
<rect x="216.80" y="586.4" width="5" height="8.1" fill="#1a921a"/>
<rect x="220.85" y="585.5" width="5" height="9.0" fill="#1a921a"/>
<rect x="224.91" y="578.3" width="5" height="16.2" fill="#1a921a"/>
<rect x="228.96" y="582.3" width="5" height="12.2" fill="#ff1500"/>
<rect x="233.01" y="583.5" width="5" height="11.0" fill="#1a921a"/>
<rect x="237.06" y="578.3" width="5" height="16.2" fill="#1a921a"/>
<rect x="241.11" y="580.0" width="5" height="14.5" fill="#1a921a"/>
<rect x="245.17" y="574.2" width="5" height="20.3" fill="#1a921a"/>
<rect x="249.22" y="545.0" width="5" height="49.5" fill="#1a921a"/>
<rect x="253.27" y="577.1" width="5" height="17.4" fill="#ff1500"/>
<rect x="257.32" y="575.4" width="5" height="19.1" fill="#1a921a"/>
<rect x="261.37" y="577.4" width="5" height="17.1" fill="#1a921a"/>
<rect x="265.43" y="581.4" width="5" height="13.1" fill="#ff1500"/>
<rect x="269.48" y="581.4" width="5" height="13.1" fill="#1a921a"/>
<rect x="273.53" y="581.4" width="5" height="13.1" fill="#1a921a"/>
<rect x="277.58" y="584.3" width="5" height="10.2" fill="#1a921a"/>
<rect x="281.63" y="583.5" width="5" height="11.0" fill="#ff1500"/>
<rect x="285.69" y="581.2" width="5" height="13.3" fill="#ff1500"/>
<rect x="289.74" y="584.3" width="5" height="10.2" fill="#1a921a"/>
<rect x="293.79" y="583.5" width="5" height="11.0" fill="#1a921a"/>
<rect x="297.84" y="582.6" width="5" height="11.9" fill="#1a921a"/>
<rect x="301.89" y="584.3" width="5" height="10.2" fill="#ff1500"/>
<rect x="305.95" y="580.4" width="5" height="14.1" fill="#ff1500"/>
<rect x="310.00" y="541.2" width="5" height="53.3" fill="#ff1500"/>
<rect x="314.05" y="579.4" width="5" height="15.1" fill="#1a921a"/>
<rect x="318.10" y="583.5" width="5" height="11.0" fill="#1a921a"/>
<rect x="322.15" y="585.6" width="5" height="8.9" fill="#ff1500"/>
<rect x="326.21" y="585.6" width="5" height="8.9" fill="#1a921a"/>
<rect x="330.26" y="585.6" width="5" height="8.9" fill="#1a921a"/>
<rect x="334.31" y="583.5" width="5" height="11.0" fill="#ff1500"/>
<rect x="338.36" y="583.5" width="5" height="11.0" fill="#ff1500"/>
<rect x="342.41" y="582.6" width="5" height="11.9" fill="#1a921a"/>
<rect x="346.47" y="586.4" width="5" height="8.1" fill="#ff1500"/>
<rect x="350.52" y="585.6" width="5" height="8.9" fill="#1a921a"/>
<rect x="354.57" y="584.3" width="5" height="10.2" fill="#1a921a"/>
<rect x="358.62" y="582.6" width="5" height="11.9" fill="#1a921a"/>
<rect x="362.67" y="582.6" width="5" height="11.9" fill="#ff1500"/>
<rect x="366.73" y="573.4" width="5" height="21.1" fill="#ff1500"/>
<rect x="370.78" y="581.4" width="5" height="13.1" fill="#1a921a"/>
<rect x="374.83" y="584.3" width="5" height="10.2" fill="#1a921a"/>
<rect x="378.88" y="587.3" width="5" height="7.2" fill="#ff1500"/>
<rect x="382.93" y="587.3" width="5" height="7.2" fill="#1a921a"/>
<rect x="386.99" y="577.4" width="5" height="17.1" fill="#ff1500"/>
<rect x="391.04" y="582.6" width="5" height="11.9" fill="#1a921a"/>
<rect x="395.09" y="576.5" width="5" height="18.0" fill="#ff1500"/>
<rect x="399.14" y="584.3" width="5" height="10.2" fill="#1a921a"/>
<rect x="403.19" y="586.4" width="5" height="8.1" fill="#1a921a"/>
<rect x="407.25" y="580.4" width="5" height="14.1" fill="#1a921a"/>
<rect x="411.30" y="579.4" width="5" height="15.1" fill="#1a921a"/>
<rect x="415.35" y="581.4" width="5" height="13.1" fill="#ff1500"/>
<rect x="419.40" y="576.5" width="5" height="18.0" fill="#ff1500"/>
<rect x="423.45" y="582.6" width="5" height="11.9" fill="#ff1500"/>
<rect x="427.51" y="576.5" width="5" height="18.0" fill="#1a921a"/>
<rect x="431.56" y="582.6" width="5" height="11.9" fill="#1a921a"/>
<rect x="435.61" y="584.3" width="5" height="10.2" fill="#ff1500"/>
<rect x="439.66" y="584.3" width="5" height="10.2" fill="#1a921a"/>
<rect x="443.71" y="584.3" width="5" height="10.2" fill="#ff1500"/>
<rect x="447.77" y="584.3" width="5" height="10.2" fill="#1a921a"/>
<rect x="451.82" y="586.4" width="5" height="8.1" fill="#ff1500"/>
<rect x="455.87" y="587.3" width="5" height="7.2" fill="#1a921a"/>
<rect x="459.92" y="588.5" width="5" height="6.0" fill="#ff1500"/>
<rect x="463.97" y="589.3" width="5" height="5.2" fill="#ff1500"/>
<rect x="468.03" y="589.3" width="5" height="5.2" fill="#ff1500"/>
<rect x="472.08" y="585.6" width="5" height="8.9" fill="#ff1500"/>
<rect x="476.13" y="578.3" width="5" height="16.2" fill="#ff1500"/>
<rect x="480.18" y="582.3" width="5" height="12.2" fill="#ff1500"/>
<rect x="484.23" y="580.4" width="5" height="14.1" fill="#ff1500"/>
<rect x="488.29" y="578.3" width="5" height="16.2" fill="#1a921a"/>
<rect x="492.34" y="583.5" width="5" height="11.0" fill="#ff1500"/>
<rect x="496.39" y="567.3" width="5" height="27.2" fill="#ff1500"/>
<rect x="500.44" y="443.5" width="5" height="151.0" fill="#1a921a"/>
<rect x="504.49" y="541.2" width="5" height="53.3" fill="#ff1500"/>
<rect x="508.55" y="552.2" width="5" height="42.3" fill="#1a921a"/>
<rect x="512.60" y="546.4" width="5" height="48.1" fill="#1a921a"/>
<rect x="516.65" y="550.5" width="5" height="44.0" fill="#ff1500"/>
<rect x="520.70" y="558.3" width="5" height="36.2" fill="#ff1500"/>
<rect x="524.75" y="561.1" width="5" height="33.4" fill="#1a921a"/>
<rect x="528.81" y="556.5" width="5" height="38.0" fill="#1a921a"/>
<rect x="532.86" y="547.3" width="5" height="47.2" fill="#ff1500"/>
<rect x="536.91" y="556.5" width="5" height="38.0" fill="#1a921a"/>
<rect x="540.96" y="564.4" width="5" height="30.1" fill="#ff1500"/>
<rect x="545.01" y="576.5" width="5" height="18.0" fill="#1a921a"/>
<rect x="549.07" y="572.5" width="5" height="22.0" fill="#ff1500"/>
<rect x="553.12" y="576.5" width="5" height="18.0" fill="#ff1500"/>
<rect x="557.17" y="577.4" width="5" height="17.1" fill="#1a921a"/>
<rect x="561.22" y="580.4" width="5" height="14.1" fill="#1a921a"/>
<rect x="565.27" y="581.2" width="5" height="13.3" fill="#ff1500"/>
<rect x="569.33" y="572.5" width="5" height="22.0" fill="#1a921a"/>
<rect x="573.38" y="580.4" width="5" height="14.1" fill="#ff1500"/>
<rect x="577.43" y="576.5" width="5" height="18.0" fill="#1a921a"/>
<rect x="581.48" y="562.4" width="5" height="32.1" fill="#1a921a"/>
<rect x="585.53" y="574.5" width="5" height="20.0" fill="#1a921a"/>
<rect x="589.59" y="581.4" width="5" height="13.1" fill="#ff1500"/>
<rect x="593.64" y="577.1" width="5" height="17.4" fill="#ff1500"/>
<rect x="597.69" y="573.4" width="5" height="21.1" fill="#1a921a"/>
<rect x="601.74" y="581.2" width="5" height="13.3" fill="#ff1500"/>
<rect x="605.79" y="576.5" width="5" height="18.0" fill="#1a921a"/>
<rect x="609.85" y="578.3" width="5" height="16.2" fill="#ff1500"/>
<rect x="613.90" y="580.4" width="5" height="14.1" fill="#1a921a"/>
<rect x="617.95" y="579.4" width="5" height="15.1" fill="#ff1500"/>
<rect x="622.00" y="522.4" width="5" height="72.1" fill="#1a921a"/>
<rect x="626.05" y="576.5" width="5" height="18.0" fill="#1a921a"/>
<rect x="630.11" y="578.3" width="5" height="16.2" fill="#1a921a"/>
<rect x="634.16" y="577.1" width="5" height="17.4" fill="#ff1500"/>
<rect x="638.21" y="580.4" width="5" height="14.1" fill="#1a921a"/>
<rect x="642.26" y="582.6" width="5" height="11.9" fill="#1a921a"/>
<rect x="646.31" y="581.4" width="5" height="13.1" fill="#ff1500"/>
<rect x="650.37" y="583.5" width="5" height="11.0" fill="#ff1500"/>
<rect x="654.42" y="582.6" width="5" height="11.9" fill="#1a921a"/>
<rect x="658.47" y="581.4" width="5" height="13.1" fill="#1a921a"/>
<rect x="662.52" y="582.6" width="5" height="11.9" fill="#ff1500"/>
<rect x="666.57" y="583.5" width="5" height="11.0" fill="#1a921a"/>
<rect x="670.63" y="582.6" width="5" height="11.9" fill="#ff1500"/>
<rect x="674.68" y="578.3" width="5" height="16.2" fill="#1a921a"/>
<rect x="678.73" y="583.5" width="5" height="11.0" fill="#1a921a"/>
<rect x="682.78" y="581.2" width="5" height="13.3" fill="#ff1500"/>
<rect x="686.83" y="581.2" width="5" height="13.3" fill="#ff1500"/>
<rect x="690.89" y="580.4" width="5" height="14.1" fill="#1a921a"/>
<rect x="694.94" y="582.6" width="5" height="11.9" fill="#ff1500"/>
<rect x="698.99" y="583.5" width="5" height="11.0" fill="#ff1500"/>
<rect x="703.04" y="582.6" width="5" height="11.9" fill="#1a921a"/>
<rect x="707.09" y="583.5" width="5" height="11.0" fill="#1a921a"/>
<rect x="711.15" y="580.4" width="5" height="14.1" fill="#1a921a"/>
<rect x="715.20" y="582.6" width="5" height="11.9" fill="#ff1500"/>
<rect x="719.25" y="587.3" width="5" height="7.2" fill="#1a921a"/>
<rect x="723.30" y="585.6" width="5" height="8.9" fill="#ff1500"/>
<rect x="727.35" y="582.6" width="5" height="11.9" fill="#ff1500"/>
<rect x="731.41" y="580.4" width="5" height="14.1" fill="#ff1500"/>
<rect x="735.46" y="578.3" width="5" height="16.2" fill="#ff1500"/>
<rect x="739.51" y="581.4" width="5" height="13.1" fill="#ff1500"/>
<rect x="743.56" y="581.4" width="5" height="13.1" fill="#1a921a"/>
<rect x="747.61" y="576.5" width="5" height="18.0" fill="#1a921a"/>
<rect x="751.67" y="577.4" width="5" height="17.1" fill="#ff1500"/>
<rect x="755.72" y="568.4" width="5" height="26.1" fill="#1a921a"/>
<rect x="759.77" y="553.4" width="5" height="41.1" fill="#1a921a"/>
<rect x="763.82" y="573.4" width="5" height="21.1" fill="#1a921a"/>
<rect x="767.87" y="575.4" width="5" height="19.1" fill="#ff1500"/>
<rect x="771.93" y="579.4" width="5" height="15.1" fill="#1a921a"/>
<rect x="775.98" y="580.4" width="5" height="14.1" fill="#ff1500"/>
<rect x="780.03" y="580.4" width="5" height="14.1" fill="#ff1500"/>
<rect x="784.08" y="579.4" width="5" height="15.1" fill="#1a921a"/>
<rect x="788.13" y="581.4" width="5" height="13.1" fill="#ff1500"/>
<rect x="792.19" y="575.4" width="5" height="19.1" fill="#ff1500"/>
<rect x="796.24" y="582.6" width="5" height="11.9" fill="#ff1500"/>
<rect x="800.29" y="576.5" width="5" height="18.0" fill="#ff1500"/>
<rect x="804.34" y="578.3" width="5" height="16.2" fill="#1a921a"/>
<rect x="808.39" y="569.6" width="5" height="24.9" fill="#1a921a"/>
<rect x="812.45" y="583.5" width="5" height="11.0" fill="#1a921a"/>
<rect x="816.50" y="581.4" width="5" height="13.1" fill="#ff1500"/>
<rect x="820.55" y="588.5" width="5" height="6.0" fill="#1a921a"/>
<rect x="824.60" y="582.6" width="5" height="11.9" fill="#1a921a"/>
<rect x="828.65" y="583.5" width="5" height="11.0" fill="#1a921a"/>
<rect x="832.71" y="579.4" width="5" height="15.1" fill="#1a921a"/>
<rect x="836.76" y="574.5" width="5" height="20.0" fill="#1a921a"/>
<rect x="840.81" y="576.5" width="5" height="18.0" fill="#1a921a"/>
<rect x="844.86" y="576.5" width="5" height="18.0" fill="#ff1500"/>
<rect x="848.91" y="583.5" width="5" height="11.0" fill="#1a921a"/>
<rect x="852.97" y="572.5" width="5" height="22.0" fill="#ff1500"/>
<rect x="857.02" y="581.4" width="5" height="13.1" fill="#1a921a"/>
<rect x="861.07" y="582.6" width="5" height="11.9" fill="#1a921a"/>
<rect x="865.12" y="579.4" width="5" height="15.1" fill="#ff1500"/>
<rect x="869.17" y="579.4" width="5" height="15.1" fill="#1a921a"/>
<rect x="873.23" y="566.5" width="5" height="28.0" fill="#ff1500"/>
<rect x="877.28" y="570.4" width="5" height="24.1" fill="#ff1500"/>
<rect x="881.33" y="531.3" width="5" height="63.2" fill="#1a921a"/>
<rect x="885.38" y="580.4" width="5" height="14.1" fill="#1a921a"/>
<rect x="889.43" y="584.3" width="5" height="10.2" fill="#ff1500"/>
<rect x="893.49" y="592.4" width="5" height="2.1" fill="#1a921a"/>
<rect x="897.54" y="586.4" width="5" height="8.1" fill="#1a921a"/>
<rect x="901.59" y="580.4" width="5" height="14.1" fill="#ff1500"/>
<rect x="905.64" y="588.5" width="5" height="6.0" fill="#ff1500"/>
<rect x="909.69" y="586.4" width="5" height="8.1" fill="#ff1500"/>
<rect x="913.75" y="571.3" width="5" height="23.2" fill="#ff1500"/>
<rect x="917.80" y="576.5" width="5" height="18.0" fill="#ff1500"/>
<rect x="921.85" y="575.4" width="5" height="19.1" fill="#1a921a"/>
<rect x="925.90" y="573.4" width="5" height="21.1" fill="#1a921a"/>
<rect x="929.95" y="575.4" width="5" height="19.1" fill="#ff1500"/>
<rect x="934.01" y="579.4" width="5" height="15.1" fill="#1a921a"/>
<rect x="938.06" y="583.5" width="5" height="11.0" fill="#ff1500"/>
<rect x="942.11" y="577.4" width="5" height="17.1" fill="#ff1500"/>
<rect x="946.16" y="563.4" width="5" height="31.1" fill="#ff1500"/>
<rect x="950.21" y="575.4" width="5" height="19.1" fill="#ff1500"/>
<rect x="954.27" y="570.4" width="5" height="24.1" fill="#ff1500"/>
<rect x="958.32" y="573.4" width="5" height="21.1" fill="#1a921a"/>
<rect x="962.37" y="575.4" width="5" height="19.1" fill="#ff1500"/>
<rect x="966.42" y="580.4" width="5" height="14.1" fill="#1a921a"/>
<rect x="970.47" y="560.3" width="5" height="34.2" fill="#ff1500"/>
<rect x="974.53" y="577.4" width="5" height="17.1" fill="#1a921a"/>
<rect x="978.58" y="580.4" width="5" height="14.1" fill="#ff1500"/>
<rect x="982.63" y="583.5" width="5" height="11.0" fill="#ff1500"/>
<rect x="986.68" y="575.4" width="5" height="19.1" fill="#1a921a"/>
<rect x="990.73" y="571.3" width="5" height="23.2" fill="#1a921a"/>
<rect x="994.79" y="571.3" width="5" height="23.2" fill="#1a921a"/>
<rect x="998.84" y="574.3" width="5" height="20.2" fill="#ff1500"/>
<rect x="1002.89" y="570.2" width="5" height="24.3" fill="#1a921a"/>
<rect x="1006.94" y="555.0" width="5" height="39.5" fill="#ff1500"/>
<rect x="1010.99" y="546.7" width="5" height="47.8" fill="#1a921a"/>
<rect x="1015.05" y="564.0" width="5" height="30.5" fill="#1a921a"/>
<rect x="1019.10" y="570.0" width="5" height="24.5" fill="#ff1500"/>
<rect x="1023.15" y="570.0" width="5" height="24.5" fill="#1a921a"/>
<rect x="1027.20" y="572.0" width="5" height="22.5" fill="#ff1500"/>
</g>
<rect x="12.5" y="12.5" width="1042.1" height="416.0" fill="none" stroke="#9a9a9a" stroke-width="1.15"/>
<rect x="12.5" y="428.5" width="1042.1" height="166.0" fill="none" stroke="#9a9a9a" stroke-width="1.15"/>
<g stroke="#f0f0f0" stroke-width="1.1">
<line x1="61.3" y1="594.5" x2="61.3" y2="599.5"/>
<line x1="146.4" y1="594.5" x2="146.4" y2="599.5"/>
<line x1="231.2" y1="594.5" x2="231.2" y2="599.5"/>
<line x1="316.4" y1="594.5" x2="316.4" y2="599.5"/>
<line x1="397.4" y1="594.5" x2="397.4" y2="599.5"/>
<line x1="486.6" y1="594.5" x2="486.6" y2="599.5"/>
<line x1="571.4" y1="594.5" x2="571.4" y2="599.5"/>
<line x1="656.5" y1="594.5" x2="656.5" y2="599.5"/>
<line x1="750.3" y1="594.5" x2="750.3" y2="599.5"/>
<line x1="827.7" y1="594.5" x2="827.7" y2="599.5"/>
<line x1="916.5" y1="594.5" x2="916.5" y2="599.5"/>
<line x1="997.6" y1="594.5" x2="997.6" y2="599.5"/>
<line x1="1054.6" y1="74.3" x2="1059.6" y2="74.3"/>
<line x1="1054.6" y1="157.3" x2="1059.6" y2="157.3"/>
<line x1="1054.6" y1="240.3" x2="1059.6" y2="240.3"/>
<line x1="1054.6" y1="323.3" x2="1059.6" y2="323.3"/>
<line x1="1054.6" y1="406.3" x2="1059.6" y2="406.3"/>
<line x1="1054.6" y1="467.4" x2="1059.6" y2="467.4"/>
<line x1="1054.6" y1="531.3" x2="1059.6" y2="531.3"/>
</g>
<g fill="#f2f2f2" font-size="14.6">
<text x="1064.5" y="79.5" textLength="26.5" lengthAdjust="spacingAndGlyphs">110</text>
<text x="1064.5" y="162.5" textLength="26.5" lengthAdjust="spacingAndGlyphs">100</text>
<text x="1064.5" y="245.5" textLength="30.9" lengthAdjust="spacingAndGlyphs">90.0</text>
<text x="1064.5" y="328.5" textLength="30.9" lengthAdjust="spacingAndGlyphs">80.0</text>
<text x="1064.5" y="411.5" textLength="30.9" lengthAdjust="spacingAndGlyphs">70.0</text>
<text x="1064.5" y="472.6" textLength="17.7" lengthAdjust="spacingAndGlyphs">40</text><text x="1064.5" y="536.5" textLength="17.7" lengthAdjust="spacingAndGlyphs">20</text>
</g>
<g fill="#e6e6e6" font-size="13.9">
<text transform="translate(1111.4,238.4) rotate(-90)" textLength="31.6" lengthAdjust="spacingAndGlyphs">Preis</text>
<text transform="translate(1096.6,543.6) rotate(-90)" textLength="59.3" lengthAdjust="spacingAndGlyphs">Volumen</text>
<text transform="translate(1117.2,519.3) rotate(-90)" textLength="15.4" lengthAdjust="spacingAndGlyphs">10</text>
<text transform="translate(1111.2,503) rotate(-90)" font-size="9.8" textLength="6.6" lengthAdjust="spacingAndGlyphs">6</text>
</g>
<g fill="#f2f2f2" font-size="14.6">
<text transform="rotate(-45 144.70000000000002 631.7)" x="144.70000000000002" y="636.8000000000001" text-anchor="middle" textLength="63.8" lengthAdjust="spacingAndGlyphs">Apr 2025</text>
<text transform="rotate(-45 314.7 631.7)" x="314.7" y="636.8000000000001" text-anchor="middle" textLength="62.5" lengthAdjust="spacingAndGlyphs">Jun 2025</text>
<text transform="rotate(-45 484.90000000000003 631.7)" x="484.90000000000003" y="636.8000000000001" text-anchor="middle" textLength="65.3" lengthAdjust="spacingAndGlyphs">Aug 2025</text>
<text transform="rotate(-45 654.8 631.7)" x="654.8" y="636.8000000000001" text-anchor="middle" textLength="63.0" lengthAdjust="spacingAndGlyphs">Oct 2025</text>
<text transform="rotate(-45 826.0 631.7)" x="826.0" y="636.8000000000001" text-anchor="middle" textLength="65.5" lengthAdjust="spacingAndGlyphs">Dec 2025</text>
<text transform="rotate(-45 995.9 631.7)" x="995.9" y="636.8000000000001" text-anchor="middle" textLength="63.8" lengthAdjust="spacingAndGlyphs">Feb 2026</text>
</g>
<rect x="915.2" y="50.2" width="9.6" height="9.4" fill="#ffd700"/><rect x="915.2" y="66.3" width="9.6" height="9.4" fill="#f46c6c"/>
<text x="930.5" y="57.9" font-size="13.2" font-weight="bold" fill="#ffd700" textLength="52" lengthAdjust="spacingAndGlyphs">SMA 20</text>
<text x="930.5" y="74.3" font-size="13.2" font-weight="bold" fill="#f46c6c" textLength="52" lengthAdjust="spacingAndGlyphs">SMA 50</text>
<path d="M69.5,28.6 L31,33.2" stroke="#27c468" stroke-width="2" fill="none"/>
<path d="M24.6,34 L33.2,29.6 L34.2,36.2 Z" fill="#27c468"/>
<rect x="70.3" y="13.3" width="98.2" height="17.8" rx="2.8" fill="#0c0c0c" fill-opacity="0.93" stroke="#2cab62" stroke-width="2"/>
<text x="73.6" y="25.9" font-size="13" font-weight="bold" fill="#2ecc71" textLength="91.7" lengthAdjust="spacingAndGlyphs">$114.82 52W</text>
<path d="M548.5,411.6 L513,406.5" stroke="#ee3028" stroke-width="2" fill="none"/>
<path d="M506.3,405.5 L515.6,403.4 L514.6,410 Z" fill="#ee3028"/>
<rect x="549.3" y="408.1" width="88" height="17.2" rx="2.6" fill="#181818" fill-opacity="0.93" stroke="#d6302a" stroke-width="2"/>
<text x="551.8" y="421.4" font-size="13" font-weight="bold" fill="#e63a30" textLength="83" lengthAdjust="spacingAndGlyphs">$70.12 52W</text>
</svg></body></html>
